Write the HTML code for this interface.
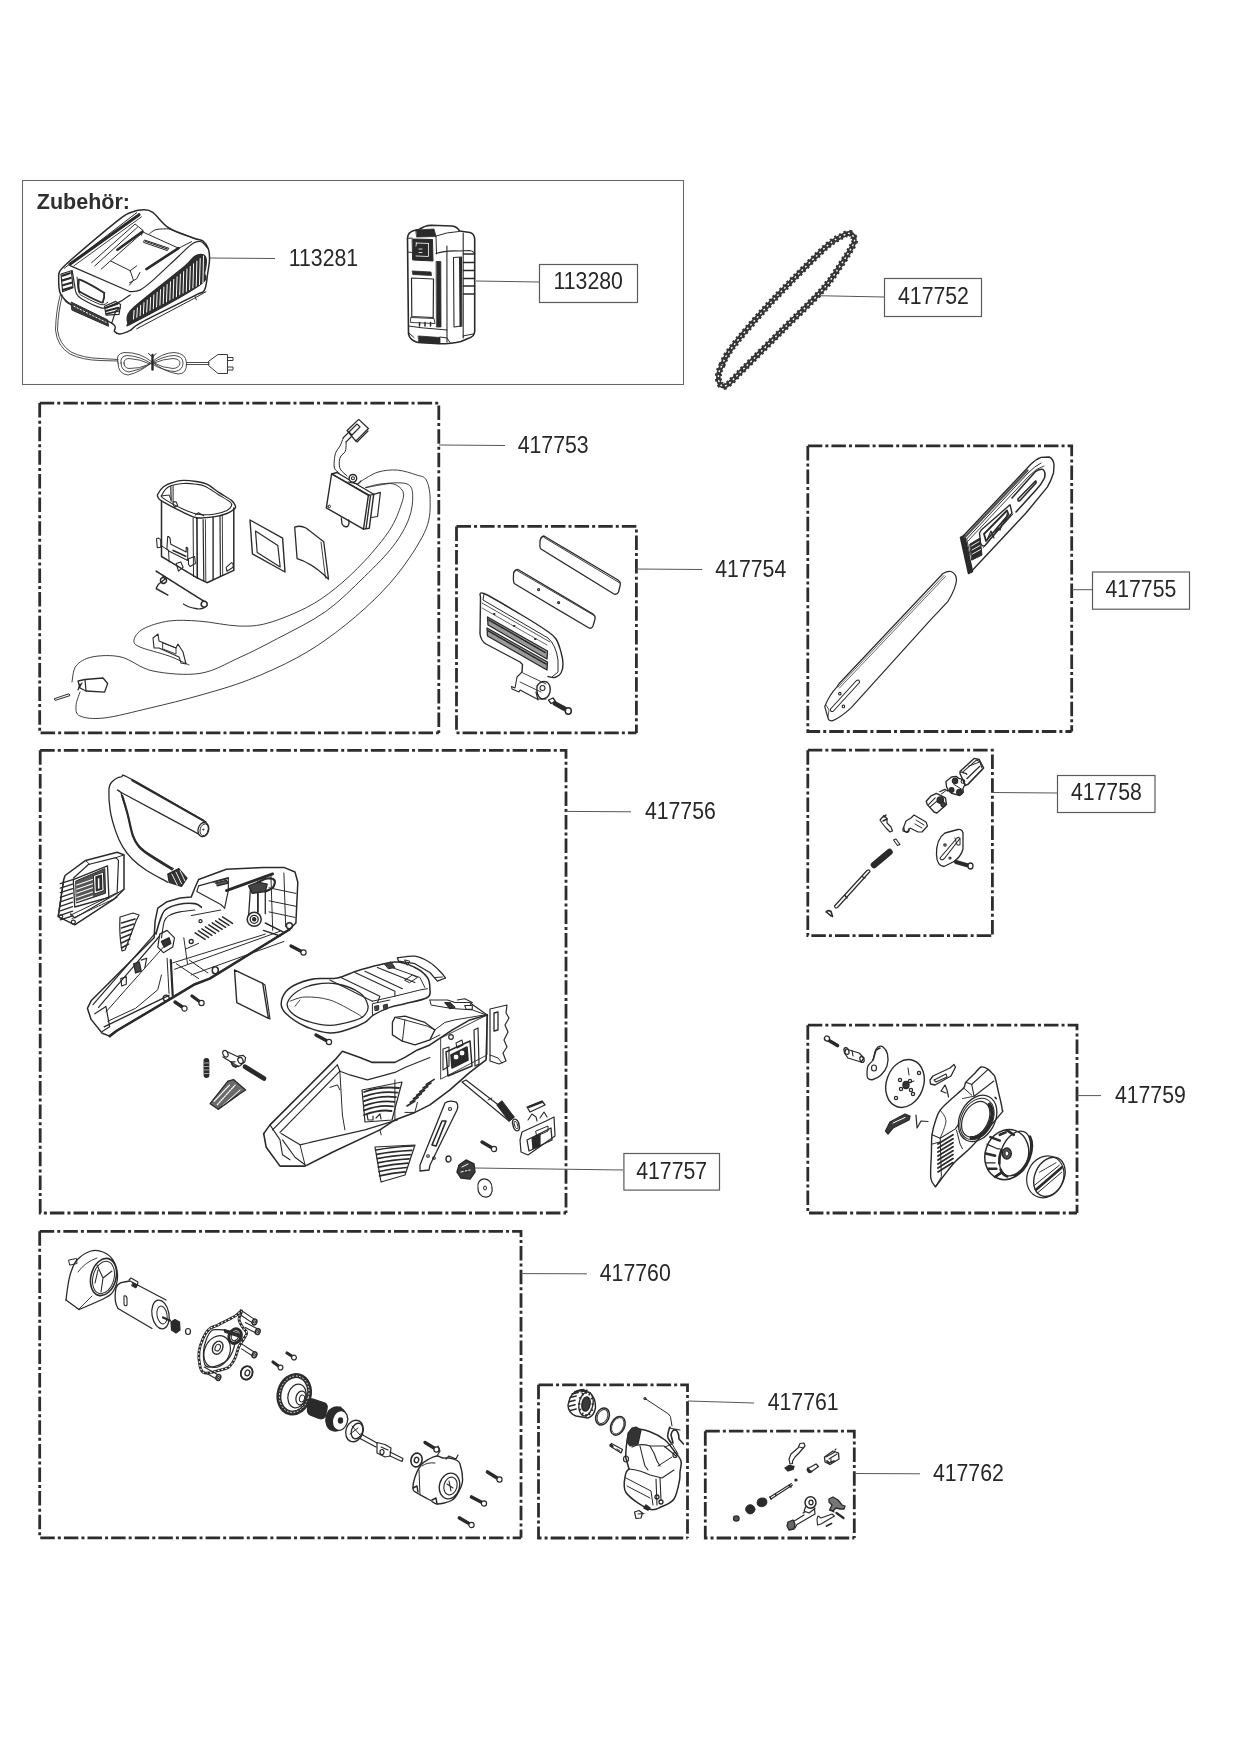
<!DOCTYPE html>
<html><head><meta charset="utf-8"><style>
html,body{margin:0;padding:0;background:#fff;}
text{-webkit-font-smoothing:antialiased;}
svg{display:block;}
</style></head><body>
<svg width="1241" height="1755" viewBox="0 0 1241 1755">
<rect width="1241" height="1755" fill="#fff"/>
<g opacity="0.995">
<rect x="22.5" y="180.5" width="661" height="204" fill="none" stroke="#666" stroke-width="1.05"/>
<text x="36.8" y="208.6" font-family="Liberation Sans, sans-serif" font-weight="bold" font-size="21.5" fill="#2e2e2e">Zubehör:</text>
<path d="M39.7 403.1 L438.8 403.1 L438.8 732.9" stroke="#2c2c2c" stroke-width="2.8" stroke-dasharray="14.5 3.06 3 3.06" fill="none" stroke-linejoin="miter"/>
<path d="M39.7 403.1 L39.7 732.9 L438.8 732.9" stroke="#2c2c2c" stroke-width="2.8" stroke-dasharray="14.5 3.06 3 3.06" fill="none" stroke-linejoin="miter"/>
<path d="M456.5 526.4 L636.4 526.4 L636.4 732.9" stroke="#2c2c2c" stroke-width="2.8" stroke-dasharray="14.5 3.06 3 3.06" fill="none" stroke-linejoin="miter"/>
<path d="M456.5 526.4 L456.5 732.9 L636.4 732.9" stroke="#2c2c2c" stroke-width="2.8" stroke-dasharray="14.5 3.06 3 3.06" fill="none" stroke-linejoin="miter"/>
<path d="M807.8 445.9 L1071.7 445.9 L1071.7 731.5" stroke="#2c2c2c" stroke-width="2.8" stroke-dasharray="14.5 3.06 3 3.06" fill="none" stroke-linejoin="miter"/>
<path d="M807.8 445.9 L807.8 731.5 L1071.7 731.5" stroke="#2c2c2c" stroke-width="2.8" stroke-dasharray="14.5 3.06 3 3.06" fill="none" stroke-linejoin="miter"/>
<path d="M40.2 750.3 L566 750.3 L566 1213" stroke="#2c2c2c" stroke-width="2.8" stroke-dasharray="14.5 3.06 3 3.06" fill="none" stroke-linejoin="miter"/>
<path d="M40.2 750.3 L40.2 1213 L566 1213" stroke="#2c2c2c" stroke-width="2.8" stroke-dasharray="14.5 3.06 3 3.06" fill="none" stroke-linejoin="miter"/>
<path d="M807.8 750.2 L992.4 750.2 L992.4 935.6" stroke="#2c2c2c" stroke-width="2.8" stroke-dasharray="14.5 3.06 3 3.06" fill="none" stroke-linejoin="miter"/>
<path d="M807.8 750.2 L807.8 935.6 L992.4 935.6" stroke="#2c2c2c" stroke-width="2.8" stroke-dasharray="14.5 3.06 3 3.06" fill="none" stroke-linejoin="miter"/>
<path d="M807.8 1025.2 L1077 1025.2 L1077 1213" stroke="#2c2c2c" stroke-width="2.8" stroke-dasharray="14.5 3.06 3 3.06" fill="none" stroke-linejoin="miter"/>
<path d="M807.8 1025.2 L807.8 1213 L1077 1213" stroke="#2c2c2c" stroke-width="2.8" stroke-dasharray="14.5 3.06 3 3.06" fill="none" stroke-linejoin="miter"/>
<path d="M39.7 1231.3 L521 1231.3 L521 1537.8" stroke="#2c2c2c" stroke-width="2.8" stroke-dasharray="14.5 3.06 3 3.06" fill="none" stroke-linejoin="miter"/>
<path d="M39.7 1231.3 L39.7 1537.8 L521 1537.8" stroke="#2c2c2c" stroke-width="2.8" stroke-dasharray="14.5 3.06 3 3.06" fill="none" stroke-linejoin="miter"/>
<path d="M538.5 1384.8 L687.5 1384.8 L687.5 1538" stroke="#2c2c2c" stroke-width="2.8" stroke-dasharray="14.5 3.06 3 3.06" fill="none" stroke-linejoin="miter"/>
<path d="M538.5 1384.8 L538.5 1538 L687.5 1538" stroke="#2c2c2c" stroke-width="2.8" stroke-dasharray="14.5 3.06 3 3.06" fill="none" stroke-linejoin="miter"/>
<path d="M705.3 1431.2 L854.3 1431.2 L854.3 1538" stroke="#2c2c2c" stroke-width="2.8" stroke-dasharray="14.5 3.06 3 3.06" fill="none" stroke-linejoin="miter"/>
<path d="M705.3 1431.2 L705.3 1538 L854.3 1538" stroke="#2c2c2c" stroke-width="2.8" stroke-dasharray="14.5 3.06 3 3.06" fill="none" stroke-linejoin="miter"/>
<text transform="translate(288.8,266.1) scale(0.925,1)" font-family="Liberation Sans, sans-serif" font-size="23" fill="#262626">113281</text>
<text transform="translate(517.7,453.0) scale(0.925,1)" font-family="Liberation Sans, sans-serif" font-size="23" fill="#262626">417753</text>
<text transform="translate(715.3,577.1) scale(0.925,1)" font-family="Liberation Sans, sans-serif" font-size="23" fill="#262626">417754</text>
<text transform="translate(644.9,819.1) scale(0.925,1)" font-family="Liberation Sans, sans-serif" font-size="23" fill="#262626">417756</text>
<text transform="translate(1114.9,1102.8) scale(0.925,1)" font-family="Liberation Sans, sans-serif" font-size="23" fill="#262626">417759</text>
<text transform="translate(599.8,1281.1) scale(0.925,1)" font-family="Liberation Sans, sans-serif" font-size="23" fill="#262626">417760</text>
<text transform="translate(767.7,1409.9) scale(0.925,1)" font-family="Liberation Sans, sans-serif" font-size="23" fill="#262626">417761</text>
<text transform="translate(932.9,1480.8) scale(0.925,1)" font-family="Liberation Sans, sans-serif" font-size="23" fill="#262626">417762</text>
<rect x="539.5" y="264.5" width="98" height="38" fill="none" stroke="#5a5a5a" stroke-width="1.2"/>
<text transform="translate(553.5,289.0) scale(0.925,1)" font-family="Liberation Sans, sans-serif" font-size="23" fill="#262626">113280</text>
<rect x="884.5" y="278.5" width="97" height="38" fill="none" stroke="#5a5a5a" stroke-width="1.2"/>
<text transform="translate(898.0,303.8) scale(0.925,1)" font-family="Liberation Sans, sans-serif" font-size="23" fill="#262626">417752</text>
<rect x="1092.5" y="572.0" width="97" height="37.200000000000045" fill="none" stroke="#5a5a5a" stroke-width="1.2"/>
<text transform="translate(1105.4,597.3) scale(0.925,1)" font-family="Liberation Sans, sans-serif" font-size="23" fill="#262626">417755</text>
<rect x="1057.5" y="775.5" width="97.5" height="37" fill="none" stroke="#5a5a5a" stroke-width="1.2"/>
<text transform="translate(1070.9,800.0) scale(0.925,1)" font-family="Liberation Sans, sans-serif" font-size="23" fill="#262626">417758</text>
<rect x="623.9" y="1153.5" width="95.60000000000002" height="36.59999999999991" fill="none" stroke="#5a5a5a" stroke-width="1.2"/>
<text transform="translate(636.2,1178.8) scale(0.925,1)" font-family="Liberation Sans, sans-serif" font-size="23" fill="#262626">417757</text>
<line x1="209" y1="258" x2="275" y2="258.5" stroke="#555" stroke-width="1"/>
<line x1="476" y1="281" x2="539" y2="282" stroke="#555" stroke-width="1"/>
<line x1="818" y1="295.7" x2="884" y2="297" stroke="#555" stroke-width="1"/>
<line x1="439" y1="445" x2="505" y2="445.5" stroke="#555" stroke-width="1"/>
<line x1="636" y1="569" x2="702" y2="569.5" stroke="#555" stroke-width="1"/>
<line x1="1072" y1="589.7" x2="1092" y2="589.7" stroke="#555" stroke-width="1"/>
<line x1="566" y1="811.4" x2="631" y2="811.8" stroke="#555" stroke-width="1"/>
<line x1="475" y1="1168" x2="623" y2="1170" stroke="#555" stroke-width="1"/>
<line x1="992" y1="792.5" x2="1057" y2="793" stroke="#555" stroke-width="1"/>
<line x1="1077" y1="1095.6" x2="1101" y2="1095.6" stroke="#555" stroke-width="1"/>
<line x1="521" y1="1273.6" x2="587" y2="1273.8" stroke="#555" stroke-width="1"/>
<line x1="688" y1="1401" x2="754" y2="1403" stroke="#555" stroke-width="1"/>
<line x1="854" y1="1473.5" x2="920" y2="1473.8" stroke="#555" stroke-width="1"/>
</g>
<g fill="none" stroke="#2a2a2a" stroke-width="1.2" stroke-linejoin="round" stroke-linecap="round">
<g id="charger" stroke="#2a2a2a">
<path d="M60.1 270.7C62.4 267.3 62.7 267 72.2 258.7C81.8 250.4 107.7 228.5 117.4 220.8C127.1 213.1 125.9 214.5 130.2 212.7C134.5 210.9 139.3 209.9 143.1 209.8C146.9 209.8 148.5 209.4 152.8 212.4C157.1 215.4 162.1 223.7 168.9 228C175.8 232.3 188.2 236 193.9 238.2C199.6 240.3 200.4 239.1 202.8 240.9C205.2 242.7 207.3 245.9 208.4 249C209.5 252.1 209.6 255.3 209.5 259.5C209.4 263.7 208.4 268.9 207.6 274C206.8 279.1 206.6 286.5 204.4 290.1C202.2 293.7 205.2 290.3 194.7 295.7C184.2 301.1 152.2 316.5 141.5 322.3C130.8 328.1 133.8 328.5 130.2 330.4C126.6 332.3 122.4 333.8 119.8 333.9C117.2 334 115.8 333 114.5 331.2C113.2 329.4 118.8 327.4 111.7 323.1C104.7 318.8 80.1 309.4 72.2 305.4C64.3 301.4 66.3 301.2 64.2 298.9C62.1 296.6 60.6 295 59.7 291.7C58.8 288.4 58.6 282.3 58.7 278.8C58.8 275.3 57.9 274.1 60.1 270.7Z" stroke-width="1.5" fill="none" />
<path d="M64.2 268.3 L136.7 212.7" stroke-width="1.0" fill="none" />
<path d="M69.8 264.3 L139.1 214.7" stroke-width="3.0" fill="none" />
<path d="M73.8 265.9 L141.5 216.8" stroke-width="0.9" fill="none" />
<path d="M149.6 233.7C150.7 233 152.8 230.4 156 229.6C159.2 228.8 166.8 228.9 168.9 228.8" stroke-width="1.0" fill="none" />
<path d="M168.9 228.8 L194.7 238.5" stroke-width="1.0" fill="none" />
<path d="M91.6 262.7 L135.1 224.0 L143.1 230.5 L141.5 235.3" stroke-width="1.0" fill="none" />
<path d="M94.8 265.9 L137.5 227.2" stroke-width="1.0" fill="none" />
<path d="M101.2 269.1 L143.1 232.1" stroke-width="1.0" fill="none" />
<path d="M117.4 249.8 L142.3 231.7" stroke-width="2.6" fill="none" />
<path d="M143.1 232.1 L178.6 248.2" stroke-width="1.0" fill="none" />
<path d="M144.8 240.1 L168.9 248.2 L167.3 250.6 L143.9 242.5Z" stroke-width="1.0" fill="none" />
<path d="M145.6 241.4 L168.1 249.3" stroke-width="1.2" fill="none" stroke-dasharray="1 1"/>
<path d="M146.4 269.1 L178.6 248.2" stroke-width="2.6" fill="none" />
<path d="M110.9 261.1 L130.2 270.7 L133.5 280.4 L129.4 285.2" stroke-width="1.0" fill="none" />
<path d="M130.2 270.7 L136.7 265.9" stroke-width="1.0" fill="none" />
<path d="M129.4 282.8 L136.7 278.8 L139.9 272.4" stroke-width="1.0" fill="none" />
<path d="M178.6 248.2 L181.8 246.6 L191.5 241.7" stroke-width="1.0" fill="none" />
<path d="M70.6 265.9 L130.2 291.7" stroke-width="1.2" fill="none" />
<path d="M130.2 291.7C131.8 291.4 136.1 292 139.9 290.1C143.7 288.2 146.4 286 152.8 280.4C159.2 274.8 171.9 262.4 178.6 256.2C185.3 250 189.3 245.7 193.1 243.3C196.9 240.9 198.8 240.9 201.2 241.7C203.6 242.5 206.5 247.1 207.6 248.2" stroke-width="1.2" fill="none" />
<path d="M72.2 270.7C72.6 273.1 73.9 281.4 74.6 285.2C75.3 289 75.1 291 76.3 293.3C77.5 295.6 77.8 296.5 81.9 298.9C86.1 301.3 96.6 306.6 101.2 307.8C105.8 309 106.1 307.3 109.3 306.2C112.5 305.1 117.1 303.3 120.6 301.4C124.1 299.5 128.6 296 130.2 294.9" stroke-width="1.2" fill="none" />
<path d="M77.1 277.2C77.4 279.6 77.6 288.5 78.7 291.7C79.8 294.9 79.8 294.4 83.5 296.5C87.2 298.6 97.2 303.7 101.2 304.6C105.2 305.6 106.6 302.6 107.7 302.2" stroke-width="1.0" fill="none" />
<path d="M78.7 282C79 280.3 77.2 278.5 81.1 280.1C85 281.7 98.2 289.1 102 291.4C105.8 293.7 103.9 292.6 104.1 294.1C104.3 295.6 103.8 299.3 103.2 300.6C102.6 301.9 104.1 303.4 100.4 302C96.7 300.6 84.7 294.5 81.1 292.5C77.5 290.5 79.4 291.9 79 290.1C78.6 288.4 78.4 283.7 78.7 282Z" stroke-width="1.8" fill="none" />
<path d="M61.0 274.0 L71.4 270.7 L73.0 287.7 L62.6 291.7Z" stroke-width="1.2" fill="none" />
<path d="M62.6 275.6 L69.8 273.2" stroke-width="2.2" fill="none" />
<path d="M62.6 280.4 L70.6 278.0" stroke-width="2.2" fill="none" />
<path d="M62.9 285.2 L71.4 282.8" stroke-width="2.2" fill="none" />
<path d="M63.4 289.8 L71.9 287.3" stroke-width="2.2" fill="none" />
<path d="M104.5 306.2 L115.7 301.4 L120.6 304.6 L119.0 314.3 L106.1 315.1Z" stroke-width="1.2" fill="none" />
<path d="M106.1 307.8 L117.4 303.8" stroke-width="2.0" fill="none" />
<path d="M106.1 311.0 L118.2 307.8" stroke-width="2.0" fill="none" />
<path d="M106.4 313.9 L118.6 311.0" stroke-width="1.6" fill="none" />
<path d="M71.4 302.2 L107.7 319.9 L108.5 326.3 L72.2 310.2Z" stroke-width="1.0" fill="#3a3a3a" />
<path d="M73.8 306.2 L106.1 322.3" stroke-width="0.9" fill="none" stroke="#fff" stroke-dasharray="1.5 2"/>
<path d="M64.2 298.9 L72.2 305.4" stroke-width="1.0" fill="none" />
<path d="M111.7 323.1 L115.7 311.0 L120.6 307.8" stroke-width="1.2" fill="none" />
<path d="M127.8 323.1C127.1 321.2 126 316.2 130.2 311C134.4 305.8 143.7 299.2 152.8 291.7C161.9 284.2 178 271.8 185 265.9C192 260 191.7 258.1 194.7 256.2C197.7 254.3 200.9 254 202.8 254.6C204.7 255.2 206 256.5 206.3 259.5C206.6 262.5 205.8 268.1 204.7 272.4C203.6 276.7 211.2 276.9 199.5 285.2C187.8 293.5 146.2 316 134.3 322.3C122.4 328.6 128.5 325 127.8 323.1Z" stroke-width="1.2" fill="#2e2e2e" />
<g stroke="#fff" stroke-width="1.0">
<path d="M133.5 319.0 L134.1 310.4"/>
<path d="M136.8 317.3 L137.4 307.9"/>
<path d="M140.1 315.6 L140.7 305.3"/>
<path d="M143.4 313.8 L144.0 302.7"/>
<path d="M146.7 312.1 L147.3 300.1"/>
<path d="M150.0 310.4 L150.6 297.5"/>
<path d="M153.3 308.7 L153.9 294.9"/>
<path d="M156.6 306.9 L157.2 292.3"/>
<path d="M159.9 305.2 L160.5 289.7"/>
<path d="M163.2 303.5 L163.9 287.1"/>
<path d="M166.5 301.8 L167.2 284.5"/>
<path d="M169.8 300.0 L170.5 281.9"/>
<path d="M173.1 298.3 L173.8 279.4"/>
<path d="M176.4 296.6 L177.1 276.8"/>
<path d="M179.7 294.8 L180.4 274.2"/>
<path d="M183.0 293.1 L183.7 271.6"/>
<path d="M186.3 291.4 L187.0 269.0"/>
<path d="M189.6 289.7 L190.3 266.4"/>
<path d="M192.9 287.9 L193.6 263.8"/>
<path d="M196.2 286.2 L196.9 261.2"/>
<path d="M199.5 284.5 L200.2 258.6"/>
<path d="M202.9 282.8 L203.5 256.0"/>
</g>
<path d="M136.7 328.8 L194.7 298.1 L206.0 291.7" stroke-width="1.0" fill="none" />
<path d="M194.7 295.7 L196.3 299.8" stroke-width="1.0" fill="none" />
</g>
<g id="cord" stroke="#3a3a3a" stroke-width="0.9">
<path d="M60.5 294 Q56 310 55.5 330 Q57 346 70 354 Q82 360 100 360.5 L118 361"/>
<path d="M62.5 295 Q58 311 57.5 330 Q59 344 71 352 Q83 358 100 358.5 L118 359.5"/>
<path d="M118 363 Q115 354 124 352.5 Q140 352 152 362 Q165 372 178 374 Q187 374 186.5 363 Q186 353 174 352.5 Q162 353 152 362 Q141 372 128 375 Q118 374 118 363Z"/>
<path d="M121 363 Q120 356 127 355.5 Q140 356 152 364 Q164 371 175 371.5 Q183 370 183 363 Q183 356 174 355.5 Q163 356 152 363 Q141 370 129 372 Q121 371 121 363Z"/>
<path d="M124 363 Q124 358.5 129 358.5 Q140 359 150 364 Q139 369 129 368.5 Q124 368 124 363Z"/>
<path d="M154 363 Q163 359 173 358.5 Q180 359 180 363 Q179.5 368 173 368.5 Q163 368 154 363Z"/>
<path d="M186.5 362.5 L209 362.5 M186.5 364.5 L209 364.5"/>
<path d="M209 361 L218 354.5 L227.5 354.5 L227.5 373.5 L218 373.5 L209 366Z" stroke-width="1"/>
<path d="M227.5 357.5 L233 357.5 L233 360.5 L227.5 360.5 M227.5 367 L233 367 L233 370 L227.5 370" stroke-width="1"/>
</g>
<path d="M152.5 355 L152.5 369.5" stroke="#2a2a2a" stroke-width="2.4"/>
<path d="M148.5 353.5 L152.5 357 L156 353.5" stroke="#2a2a2a" stroke-width="1"/>

<g id="battery" stroke="#2a2a2a">
<path d="M407.5 238 Q408 232 414 230.5 L419 229.5 Q425 225.5 431 225.3 L452 226 Q457 226.5 459.5 231 L470 232.5 Q474.5 234 474.7 239 L474.7 331 Q474.5 337 468 338.5 L461 341.5 Q452 343.8 439 343.8 L418 342.5 Q410 340.5 408.5 334 Z" stroke-width="1.6"/>
<path d="M416 230 L434 229 L436 236.5 L417 237Z" fill="#2a2a2a" stroke-width="0.8"/>
<path d="M436 236 Q447 232 459 231.5 M436 236.5 L436.5 254" stroke-width="1"/>
<path d="M407.6 252 L412 252.5 M407.6 238.5 L412 238" stroke-width="1"/>
<path d="M412.5 239 L432.5 239.5 L433 261 L413 260Z" fill="#2a2a2a" stroke-width="1"/>
<path d="M416 243 L428.5 243.5 M416 256 L428 256.5 M416.5 243 L416 246 M428.5 243.5 L428.5 256 M419 249 L422 249 M419 252.5 L422 252.5" stroke="#fff" stroke-width="0.8"/>
<path d="M436 253.5 Q446 250 460 251 L469 250.5 Q474 251 474.5 254" stroke-width="1.2"/>
<path d="M436.5 261.5 L440.8 261.5 L441 327 L436.8 327Z" fill="#2a2a2a" stroke-width="0.8"/>
<path d="M446.9 246 L447 342 M463.2 233 L463.2 338" stroke-width="1.1"/>
<path d="M453.5 257.5 L461.5 257 L461.8 326 L454 327Z" stroke-width="1.1"/>
<path d="M460 258 L460.5 326" stroke-width="2"/>
<path d="M463.5 254 L474.5 254 M463.5 262.5 L474.5 262.5 M463.5 270.5 L474.5 270.5 M463.5 278.5 L474.5 278.5 M463.5 286 L474.5 286 M463.5 294 L474.5 294" stroke-width="1.6"/>
<path d="M411.5 278 L433.5 279 L433.2 317.5 L411.8 316.5Z" stroke-width="1.2"/>
<path d="M412.5 271 L431 272 L431.5 275.5 L413 274.5Z" fill="#2a2a2a" stroke-width="0.8"/>
<path d="M411 317.5 L434 318.5 L435 323.5 L411 322.5Z" stroke-width="0.9"/>
<path d="M419.5 322.5 L419.5 326 M425 322.5 L425 326 M430.5 322.5 L430.5 326" stroke-width="1.5"/>
<path d="M408.5 326 Q420 328 436 329 L447 330" stroke-width="1"/>
<path d="M418.5 336 L440 337.5 L440 343.2 L419 342.5Z" fill="#2a2a2a" stroke-width="0.8"/>
<path d="M409 333 L414 337.5 M440 337 L447 338 L450 342.5 M463 336 L473 334" stroke-width="1"/>
</g>

<g id="chain">
<path d="M722 365C724.2 360.4 725.2 356.5 732 347.5C738.8 338.5 752.5 322.7 763 311C773.5 299.3 784.3 288.3 795 277.5C805.7 266.7 819 253 827 246C835 239 839.2 237.6 843 235.5C846.8 233.4 848.2 233.1 850 233.5C851.8 233.9 853.5 236.1 854 238C854.5 239.9 855.3 240.3 853 245C850.7 249.7 845.3 258.2 840 266C834.7 273.8 830.7 280.8 821 291.5C811.3 302.2 794.8 317.7 782 330.5C769.2 343.3 753.2 359.4 744 368.5C734.8 377.6 731 382.4 727 385C723 387.6 721.4 385.7 720 384C718.6 382.3 718.2 378.2 718.5 375C718.8 371.8 719.8 369.6 722 365Z" stroke="#353535" stroke-width="4.6"/>
<path d="M722 365C724.2 360.4 725.2 356.5 732 347.5C738.8 338.5 752.5 322.7 763 311C773.5 299.3 784.3 288.3 795 277.5C805.7 266.7 819 253 827 246C835 239 839.2 237.6 843 235.5C846.8 233.4 848.2 233.1 850 233.5C851.8 233.9 853.5 236.1 854 238C854.5 239.9 855.3 240.3 853 245C850.7 249.7 845.3 258.2 840 266C834.7 273.8 830.7 280.8 821 291.5C811.3 302.2 794.8 317.7 782 330.5C769.2 343.3 753.2 359.4 744 368.5C734.8 377.6 731 382.4 727 385C723 387.6 721.4 385.7 720 384C718.6 382.3 718.2 378.2 718.5 375C718.8 371.8 719.8 369.6 722 365Z" stroke="#353535" stroke-width="7" stroke-dasharray="2.2 2.8" stroke-linecap="butt"/>
<path d="M722 365C724.2 360.4 725.2 356.5 732 347.5C738.8 338.5 752.5 322.7 763 311C773.5 299.3 784.3 288.3 795 277.5C805.7 266.7 819 253 827 246C835 239 839.2 237.6 843 235.5C846.8 233.4 848.2 233.1 850 233.5C851.8 233.9 853.5 236.1 854 238C854.5 239.9 855.3 240.3 853 245C850.7 249.7 845.3 258.2 840 266C834.7 273.8 830.7 280.8 821 291.5C811.3 302.2 794.8 317.7 782 330.5C769.2 343.3 753.2 359.4 744 368.5C734.8 377.6 731 382.4 727 385C723 387.6 721.4 385.7 720 384C718.6 382.3 718.2 378.2 718.5 375C718.8 371.8 719.8 369.6 722 365Z" stroke="#fff" stroke-width="1.4" stroke-dasharray="1.8 3.2" stroke-dashoffset="1" stroke-linecap="butt"/>
</g>
<g id="harness" stroke="#2a2a2a">
<path d="M361.6 480.8C364.3 479.4 372 473.9 378 472.1C384 470.3 390.9 469.6 397.4 470.1C403.8 470.6 411.9 473.4 416.7 475C421.5 476.6 424.1 475.9 426.3 480C428.5 484.1 430.1 491.2 430.1 499.3C430.1 507.4 430.8 517 426.3 528.3C421.8 539.6 411.7 555.1 403 567C394.3 578.9 385.3 588.9 374 599.9C362.7 610.9 348.3 623.1 335.4 632.8C322.5 642.5 311.2 650 296.7 657.9C282.2 665.8 264.2 673.8 248.3 680C232.4 686.2 217.4 690.3 201 695C184.6 699.7 166.2 704.2 150 708C133.8 711.8 115.7 716.7 104 718C92.3 719.3 84.7 718 80 716C75.3 714 76 710 76 706C76 702 79.3 694.3 80 692" stroke-width="0.9" fill="none" />
<path d="M365.5 487.5C368.4 486.9 376 484.3 382.9 483.7C389.8 483.1 401.9 481.9 406.9 483.9C411.9 485.9 412.4 489.7 412.7 495.5C413 501.3 412.1 510.3 408.9 518.7C405.7 527.1 400.8 536.1 393.4 545.8C386 555.5 375.7 565.8 364.4 576.7C353.1 587.7 340.2 601.2 325.7 611.5C311.2 621.8 291.9 630.9 277.4 638.6C262.9 646.3 251.6 652.1 238.7 657.9C225.8 663.7 214.3 671.2 200 673.4C185.7 675.6 166.2 673.7 153 671C139.8 668.3 131.2 659.3 121 657C110.8 654.7 99.5 655.5 92 657C84.5 658.5 79.3 661.8 76 666C72.7 670.2 72.7 679.3 72 682" stroke-width="0.9" fill="none" />
<path d="M366.3 487.7C368.6 487.2 375.5 485.6 380 485C384.5 484.4 389.6 482.8 393.4 483.9C397.2 485 401.7 488.1 403 491.6C404.3 495.1 403.4 498.7 401.1 505.1C398.9 511.6 395.6 520.9 389.5 530.3C383.4 539.6 373.4 551.5 364.4 561.2C355.4 570.9 345.1 580.6 335.4 588.3C325.7 596 317.7 601.8 306.4 607.6C295.1 613.4 279 620 267.7 623.1C256.4 626.2 250 626.3 238.7 626C227.4 625.7 211.6 622 200 621.2C188.4 620.4 178.5 619.7 169 621C159.5 622.3 148.8 625.8 143 629C137.2 632.2 134.5 637 134 640C133.5 643 134.2 644.3 140 647C145.8 649.7 160.8 653 169 656C177.2 659 185.7 663.5 189 665" stroke-width="0.9" fill="none" />
<path d="M331.6 474 L368.4 495.3 L363.5 529.1 L326.3 507.8Z" stroke-width="1.4" fill="none" />
<path d="M331.6 474 L336.9 472.5 L373.7 494.3 L368.4 495.3" stroke-width="1.3" fill="none" />
<path d="M333 474.5 L369 495" stroke-width="1.2" fill="none" stroke-dasharray="1 0.8"/>
<path d="M373.7 494.3 L369.3 528.2 L363.5 529.1" stroke-width="1.4" fill="none" />
<path d="M370.5 496 L366 528.5" stroke-width="1.4" fill="none" stroke-dasharray="1 0.8"/>
<path d="M373.7 494.3 L380.4 492.4 L377.5 516.5 L371.3 517.5" stroke-width="1.2" fill="none" />
<path d="M352.9 478.3 m-3.8 0 a3.8 3.8 0 1 0 7.6 0 a3.8 3.8 0 1 0 -7.6 0" stroke-width="1.4" fill="#fff" />
<path d="M352.9 478.3 m-1.5 0 a1.5 1.5 0 1 0 3 0 a1.5 1.5 0 1 0 -3 0" stroke-width="1.1" fill="none" />
<path d="M348 482 L358 484 L361 481" stroke-width="1.2" fill="none" />
<path d="M341.3 518 L342 524 Q344 527.5 347.5 526.5 Q350 524 348.5 520" stroke-width="1.3" fill="none" />
<path d="M329.2 506.4 m-1.3 0 a1.3 1.3 0 1 0 2.6 0 a1.3 1.3 0 1 0 -2.6 0" stroke-width="1" fill="none" />
<path d="M343.2 438.2C342.7 439.5 341.2 443.7 340 446C338.8 448.3 336.9 449.9 336 452C335.1 454.1 334.8 455.8 334.5 458.5C334.2 461.2 333.7 465.8 334.5 468.2C335.3 470.6 338.5 472.2 339.3 473" stroke-width="1.0" fill="none" />
<path d="M346.1 442.1C346.1 442.9 346.2 445.4 346 447C345.8 448.6 345.9 450.3 345.1 451.8C344.3 453.3 342 454.4 341 456C340 457.6 339.4 459.2 339.3 461.4C339.2 463.6 339 466.8 340.3 469.2C341.6 471.6 346 474.8 347.1 475.9" stroke-width="1.0" fill="none" />
<path d="M347.1 430.5 L358.7 419.4 L368.4 428.5 L355.8 441.1Z" stroke-width="1.3" fill="none" />
<path d="M349 432 L357 424 L360 427 L352 435Z" stroke-width="1.1" fill="none" />
<path d="M343 438 L349 432 M346 442 L352 436" stroke-width="1.1" fill="none" />
<path d="M356 440 L357 442 L368 431" stroke-width="1.2" fill="none" />
<path d="M157.7 494.2C158.6 492.4 161.2 488.5 163.8 486.5C166.4 484.5 169.9 483.3 173.1 482.3C176.3 481.3 179.2 480.5 183.1 480.4C186.9 480.3 192.2 480.9 196.2 481.5C200.2 482.1 203.1 482.3 206.9 484.2C210.7 486.1 215.1 490 219.2 492.7C223.3 495.4 228.8 498.2 231.5 500.4C234.2 502.6 234.9 504.4 235.4 505.8C235.9 507.2 236 507.5 234.6 508.8C233.2 510.1 230.4 512.1 226.9 513.5C223.4 514.9 218.9 516.2 213.8 516.9C208.7 517.6 201.4 518.5 196.2 517.7C190.9 516.9 188.1 514.7 182.3 511.9C176.5 509.1 165.5 503.2 161.5 500.8C157.5 498.4 158.7 498.4 158.1 497.3C157.5 496.2 156.8 496 157.7 494.2Z" stroke-width="1.4" fill="none" />
<path d="M162.3 494.2C163.3 492.3 165.7 488.3 169.2 486.5C172.7 484.7 178.6 483.9 183.1 483.5C187.6 483.1 192.5 483.7 196.2 484.2C199.9 484.7 201.8 484.8 205.4 486.5C209 488.2 213.6 491.6 217.7 494.2C221.8 496.8 227.7 500 230 501.9C232.3 503.8 232 504.4 231.5 505.8C231 507.2 229.8 509 226.9 510.4C224 511.8 218.7 513.6 213.8 514.2C208.9 514.8 202.9 515.1 197.7 514.2C192.4 513.3 188.1 511.5 182.3 508.8C176.5 506.1 166.4 500.5 163.1 498.1C159.8 495.7 161.3 496.1 162.3 494.2Z" stroke-width="1.1" fill="none" />
<path d="M170.8 486.5 L171.2 501.2" stroke-width="1.2" fill="none" />
<path d="M173.1 485.8 L173.1 501.9" stroke-width="1.0" fill="none" />
<path d="M162.3 495.8 L169.2 495.0 L170.8 499.6" stroke-width="1.0" fill="none" />
<path d="M173.1 501.9 L176.2 501.9 L177.7 505.8 L174.6 507.3 L173.1 504.2Z" stroke-width="1.1" fill="none" />
<path d="M195.4 515.0 L198.5 512.7 L203.8 515.8" stroke-width="1.1" fill="none" />
<path d="M161.5 501.2 L161.5 556.5 L169.2 561.2 L196.2 577.3 L206.9 582.7 L233.8 570.4 L233.8 508.1" stroke-width="1.5" fill="none" />
<path d="M196.9 517.7 L197.3 578.1" stroke-width="1.6" fill="none" />
<path d="M193.1 518.1 L193.5 576.5" stroke-width="1.0" fill="none" />
<path d="M203.1 519.6 L203.8 581.2" stroke-width="1.2" fill="none" />
<path d="M205.4 519.6 L205.8 581.5" stroke-width="0.9" fill="none" />
<path d="M213.1 516.9 L213.1 579.6" stroke-width="1.4" fill="none" />
<path d="M220.0 515.8 L220.4 576.5" stroke-width="1.2" fill="none" />
<path d="M222.3 515.0 L222.7 575.4" stroke-width="0.9" fill="none" />
<path d="M168.5 536.5 L170.0 538.1 L170.8 544.2 L186.2 551.9 L186.2 547.3 L187.7 548.1 L187.7 560.4 L169.2 551.2 L166.9 548.8 L167.7 536.5Z" stroke-width="1.1" fill="none" />
<path d="M173.1 550.4 L186.2 556.5" stroke-width="1.6" fill="none" stroke-dasharray="2 1"/>
<path d="M161.5 545.8 L168.5 550.4 L169.2 561.9" stroke-width="1.0" fill="none" />
<path d="M188.5 558.8 L194.6 556.5 L195.4 563.5 L190.0 566.5 L188.5 564.2Z" stroke-width="1.1" fill="none" />
<path d="M156.5 538.8 L158.5 538.1 L160.8 539.6 L160.8 547.3 L157.3 547.7Z" stroke-width="1.1" fill="none" />
<path d="M176.2 563.5 L180.8 561.9 L183.1 567.3 L178.5 571.2Z" stroke-width="1.1" fill="none" />
<path d="M226.2 567.3 L231.5 562.7 L233.1 563.5 L233.1 567.3 L226.9 571.2Z" stroke-width="1.1" fill="none" />
<path d="M250 520 L282.6 538.1 L285 572 L252.4 553.8Z" stroke-width="1.4" fill="none" />
<path d="M255.5 531 L277.8 545.4 L280.2 567 L257.2 552.6Z" stroke-width="1.2" fill="none" />
<path d="M294.7 527.2 Q300 525 306 528 L323.7 541.7 L328.5 579.2 Q312 563 297.1 558.7Z" stroke-width="1.3" fill="none" />
<path d="M321 542 L325.5 578" stroke-width="0.9" fill="none" />
<path d="M156.2 571.2 L203.8 601.2" stroke-width="1.6" fill="none" stroke-dasharray="1.5 1"/>
<path d="M156.2 588.1 L158.5 584.2 L162.3 581.2 L165.4 578.8 L163.1 576.5" stroke-width="1.3" fill="none" />
<path d="M156.5 588.8 L167.7 595.0" stroke-width="1.6" fill="none" stroke-dasharray="1.5 1"/>
<path d="M160.5 580.4 a3 3 0 1 0 6 0 a3 3 0 1 0 -6 0" stroke-width="1.6" fill="none" stroke-dasharray="1.2 0.8"/>
<path d="M201.2 604.2 a3 3 0 1 0 6 0 a3 3 0 1 0 -6 0" stroke-width="1.6" fill="none" stroke-dasharray="1.2 0.8"/>
<path d="M183.5 604C184.2 604.4 186.4 605.8 188 606.5C189.6 607.2 191.2 607.6 193 608C194.8 608.4 197.2 609 199 609C200.8 609 203.2 608.2 204 608" stroke-width="1.2" fill="none" />
<path d="M153 638 L158 634 L159 641 L176 648 L178 644 L183 652 L186 664 L181 663 L179 657 L159 648 L154 648Z" stroke-width="1.1" fill="none" />
<path d="M163 643 L176 648 L176 654 L163 649Z" stroke-width="0.9" fill="none" />
<path d="M78 681 L85 679.5 L103 678 L107.7 683.5 L104.5 692.2 L86 691 L80 688Z" stroke-width="1.3" fill="none" />
<path d="M85 679.5 L86 691 M80 684 L78 690 M82 683 L79 688" stroke-width="1.2" fill="none" />
<path d="M54.5 698.6 L69 693.8 L70 695.6 L55.5 700.3Z" stroke-width="1" fill="none" />
</g>
<g id="plate" stroke="#2a2a2a">
<path d="M540 544 Q539.5 537 544 536 L618 580 Q621 582 620 586 L618.5 592 Q617 595 614 594 L541 549 Q539.5 548 540 544Z" stroke-width="1.3" fill="none" />
<path d="M544 537.5 L619 582.5" stroke-width="0.9" fill="none" />
<path d="M513.5 576 Q513 570 518 569.5 L593 614 Q595.5 616 595 619 L593 626 Q591.5 629 589 628 L515 584 Q513 583 513.5 576Z" stroke-width="1.3" fill="none" />
<path d="M517 570.5 L594 615.5" stroke-width="0.9" fill="none" />
<path d="M538.6 589.6 m-1 0 a1 1 0 1 0 2 0 a1 1 0 1 0 -2 0 M558.6 602.6 m-1 0 a1 1 0 1 0 2 0 a1 1 0 1 0 -2 0" stroke-width="1.2" fill="none" />
<path d="M480.5 598C481.1 597.2 477.4 590.8 484 593.5C490.6 596.2 509.5 607.8 520 614C530.5 620.2 541 626.8 547 631C553 635.2 553.7 635.5 556 639C558.3 642.5 559.8 647.8 561 652C562.2 656.2 563 660.5 563 664C563 667.5 562.3 670.8 561 673C559.7 675.2 557.2 676.9 555 677.5C552.8 678.1 549.2 676.7 548 676.5" stroke-width="1.4" fill="none" />
<path d="M480.5 598 L480 634 Q481 641 486 644 L520 662 L522.5 664.5 L522 672" stroke-width="1.4" fill="none" />
<path d="M484 594 L483 600 L548 638 Q556 645 558 660 L558 672 L552 677" stroke-width="1.0" fill="none" />
<path d="M482 603 L550 642" stroke-width="0.8" fill="none" />
<path d="M482 608 L547 645" stroke-width="0.7" fill="none" />
<path d="M487.5 617 L488 625 L547 659 L547.5 651Z" stroke-width="1.3" fill="#9a9a9a" />
<path d="M489 620 L546 653" stroke-width="1.6" fill="none" stroke="#2a2a2a" stroke-dasharray="1 1.2"/>
<path d="M487 628 L487.5 636 L547 670 L547.5 662Z" stroke-width="1.3" fill="#9a9a9a" />
<path d="M488.5 631 L546 664" stroke-width="1.6" fill="none" stroke="#2a2a2a" stroke-dasharray="1 1.2"/>
<path d="M494 614 l0.5 0 M514 626 l0.5 0 M535 639 l0.5 0" stroke-width="2" fill="none" />
<path d="M522 672 L517 677 L515 688 L511.5 686.5 L512 689 L519 692 L520 690 L537 699 L546 699" stroke-width="1.1" fill="none" />
<path d="M523 673 L546 684 M520 682 L541 692" stroke-width="0.9" fill="none" />
<path d="M537 686 Q541 680 547 682 Q551 685 550 692 Q548 699 542 699 Q536 697 537 686Z" stroke-width="1.4" fill="none" />
<path d="M540 688 a2 2 0 1 0 5 0 a2 2 0 1 0 -5 0" stroke-width="1.1" fill="none" />
<path d="M536 692 L538 700" stroke-width="1.2" fill="none" />
<path d="M548.5 700 L553 698 L555.5 701.5 L551 703.5Z" stroke-width="1.3" fill="none" />
<path d="M555 703.5 L566 709.5" stroke-width="4.8" fill="none" stroke-linecap="round"/>
<path d="M568.3 711 m-3 0 a3 3.2 0 1 0 6 0 a3 3.2 0 1 0 -6 0" stroke-width="1.5" fill="#fff" />
</g>
<g id="bar" stroke="#2a2a2a">
<path d="M839.2 683.5 L943 573.5 Q947 571 951 571.5 Q956.5 574 956.5 580 Q956 588 948 601.3 L931 619.4 L851.3 707.6 Q840 718 832 720.9 Q828.5 721 828 718 L824.7 706.4 Q830 694 836.8 687.1Z" stroke-width="1.2" fill="none" />
<path d="M838 687 L944 575.5 M839.5 688 L945.5 576.5" stroke-width="0.7" fill="none" />
<path d="M830.5 709 L856.5 680.5 Q859.5 679 859.5 682.5 L833 711.5 Q830 712 830.5 709Z" stroke-width="1.1" fill="none" />
<path d="M839.8 693.7 m-1.2 0 a1.2 1.3 0 1 0 2.4 0 a1.2 1.3 0 1 0 -2.4 0 M843.4 706.4 m-1.2 0 a1.2 1.3 0 1 0 2.4 0 a1.2 1.3 0 1 0 -2.4 0" stroke-width="1.1" fill="none" />
<path d="M826 705 L829 710 L828 717" stroke-width="0.8" fill="none" />
<path d="M960.5 537.5 L964.5 535.2 L972.5 571.5 L968.5 573.5Z" stroke-width="1.5" fill="#2a2a2a" />
<path d="M963.9 535.3 L1026.9 468.5 Q1034 460 1041 457.4 L1049 457 Q1054 459 1054 466 L1053.5 473 Q1051 481 1047.3 487.1 L1026 513 L972.2 570.5" stroke-width="1.4" fill="none" />
<path d="M966.7 539 L1028 473 Q1035 466 1041 463" stroke-width="1.0" fill="none" />
<path d="M965 537 L1027.5 470.5" stroke-width="2.4" fill="none" stroke="#555"/>
<path d="M966.7 539 L970 555 M968 541 L1029 476 Q1036 468 1044 466" stroke-width="0.9" fill="none" />
<path d="M1012 498 L1035 472 Q1039 468.5 1043 469.5 Q1046 472 1044.5 478 Q1041 485 1036 490 L1016 512" stroke-width="1.6" fill="none" />
<path d="M1018 499 L1035 481.5 Q1036.5 480 1036 483 L1020 500.5 Q1017.5 502 1018 499Z" stroke-width="1.6" fill="none" />
<path d="M981.5 529.7 L1010 504.7 L1012 513 L985 545.5 Q982 547 980.5 543 L979.5 533Z" stroke-width="1.4" fill="none" />
<path d="M984 534 L1007 510.5 L1008.5 514.5 L986 541Z" stroke-width="1.8" fill="#fff" />
<path d="M987 540 L991 531 L994 538 M995 533 L998 528 L1000 530 L1002 524 M1003 522 Q1008 518 1007 514" stroke-width="1.2" fill="none" />
<path d="M970 544 L980 538 L982 555 L972 560Z" stroke-width="1.0" fill="#2a2a2a" />
<path d="M971.5 546 L979 541.5 M972 550 L980 545.5 M972.5 554 L980.5 549.5" stroke-width="0.9" fill="none" stroke="#fff"/>
<path d="M983 548 L1013 514 M1003 524 L1012 515" stroke-width="0.8" fill="none" />
</g>
<g id="housingL" stroke="#2a2a2a">
<path d="M206.2 822.1C193.9 815 146.4 787.2 132.2 779.6C118 772 124.6 776.3 121.2 776.8C117.8 777.2 113.6 780 111.6 782.3C109.5 784.6 109.1 785.7 108.9 790.5C108.7 795.3 109.2 804.2 110.3 811.1C111.4 818 113.8 825.7 115.8 831.6C117.8 837.5 119.9 842.1 122.6 846.7C125.3 851.3 128.3 855.1 132.2 859C136.1 862.9 140 866.1 145.9 870C151.8 873.9 164.2 880.2 167.8 882.3" stroke-width="1.3" fill="none" />
<path d="M199.3 834.4C186.8 827.7 137 800.9 124 794C111 787.1 120.8 790.4 121.2 793.3C121.7 796.1 124.9 804.5 126.7 811.1C128.5 817.7 130.4 827.5 132.2 833C134 838.5 135 840.6 137.7 844C140.4 847.4 142.7 849.5 148.6 853.6C154.5 857.7 169.2 866.1 173.3 868.6" stroke-width="1.2" fill="none" />
<path d="M122.3 796C123.2 799 125.7 807.2 127.5 813.8C129.3 820.4 131 830.3 132.9 835.8C134.8 841.3 136.2 843.4 139 846.7C141.8 850 144.5 851.8 150 855.6C155.5 859.4 168.2 867 171.9 869.3" stroke-width="2.2" fill="none" />
<path d="M132.2 780.3 L203.4 820.7" stroke-width="2.0" fill="none" />
<ellipse cx="203.4" cy="829.6" rx="5.3" ry="7.2" transform="rotate(15 203.4 829.6)" stroke-width="1.3" fill="#fff"/>
<ellipse cx="204.20000000000002" cy="829.6" rx="4" ry="6" transform="rotate(15 203.4 829.6)" stroke-width="0.9" fill="none"/>
<path d="M203.4 829.6 m-0.6 0 a0.6 0.6 0 1 0 1.2 0 a0.6 0.6 0 1 0 -1.2 0" stroke-width="1.0" fill="none" />
<path d="M167.8 874.1 L178.8 868.6 L187.0 878.2 L181.5 886.4 L169.2 882.3Z" stroke-width="1.3" fill="#333" />
<path d="M171.9 874.1 L177.4 885.1" stroke-width="0.9" fill="none" stroke="#fff"/>
<path d="M176.0 872.1 L181.5 883.7" stroke-width="0.9" fill="none" stroke="#fff"/>
<path d="M180.1 870.7 L184.9 881.0" stroke-width="0.9" fill="none" stroke="#fff"/>
<path d="M65.1 875.5 L85.6 860.4 L117.1 852.2 L124.0 854.9 L124.0 889.2 L114.4 898.8 L74.7 924.8 L58.2 916.6 L63.7 879.6Z" stroke-width="1.5" fill="none" />
<path d="M73.3 878.2 L88.4 864.5 L115.8 857.7 L118.5 860.4 L117.1 893.3 L74.7 917.9 L70.5 913.8" stroke-width="1.2" fill="none" />
<path d="M85.6 860.4 L89.7 864.5" stroke-width="1.0" fill="none" />
<path d="M115.8 857.7 L124.0 854.9" stroke-width="1.0" fill="none" />
<path d="M117.1 893.3 L124.0 889.2" stroke-width="1.0" fill="none" />
<path d="M73.3 879.6 L107.5 865.9 L108.9 897.4 L74.7 907.0Z" stroke-width="1.3" fill="none" />
<path d="M76.0 881.0 L104.8 868.6 L105.5 893.3 L76.7 902.9Z" stroke-width="1.0" fill="#555" />
<path d="M93.8 875.5 L103.4 872.1 L104.1 890.5 L94.5 894.0Z" stroke-width="1.0" fill="#fff" />
<path d="M95.9 876.8 L101.4 875.2 L101.8 889.2 L96.3 890.8Z" stroke-width="1.2" fill="#333" />
<path d="M97.7 878.2 L99.6 877.7 L99.9 888.5 L97.9 889.2Z" stroke-width="0.6" fill="#fff" />
<path d="M76.7 885.1 L92.5 879.6" stroke-width="1.1" fill="none" stroke="#fff"/>
<path d="M76.7 889.2 L92.5 883.7" stroke-width="1.1" fill="none" stroke="#fff"/>
<path d="M76.7 893.3 L92.5 887.8" stroke-width="1.1" fill="none" stroke="#fff"/>
<path d="M76.7 897.4 L92.5 891.9" stroke-width="1.1" fill="none" stroke="#fff"/>
<path d="M76.7 901.5 L92.5 896.0" stroke-width="1.1" fill="none" stroke="#fff"/>
<path d="M60.3 883.7 L72.6 879.6" stroke-width="1.3" fill="none" />
<path d="M60.3 888.2 L72.6 884.1" stroke-width="1.3" fill="none" />
<path d="M60.3 892.7 L72.6 888.6" stroke-width="1.3" fill="none" />
<path d="M60.3 897.3 L72.6 893.2" stroke-width="1.3" fill="none" />
<path d="M60.3 901.8 L72.6 897.7" stroke-width="1.3" fill="none" />
<path d="M60.3 906.3 L72.6 902.2" stroke-width="1.3" fill="none" />
<path d="M60.3 910.8 L72.6 906.7" stroke-width="1.3" fill="none" />
<path d="M60.3 915.3 L72.6 911.2" stroke-width="1.3" fill="none" />
<path d="M60.3 919.9 L72.6 915.8" stroke-width="1.3" fill="none" />
<path d="M63.7 879.6 L58.2 916.6" stroke-width="1.2" fill="none" />
<path d="M70.5 915.2 L115.8 893.3" stroke-width="1.0" fill="none" />
<path d="M71.9 918.6 L117.1 897.4" stroke-width="1.0" fill="none" stroke-dasharray="2 1"/>
<path d="M71.3 922.1 a2 2 0 1 0 4 0 a2 2 0 1 0 -4 0" stroke-width="1.2" fill="none" />
<path d="M59.2 916.6 a1.8 1.8 0 1 0 3.6 0 a1.8 1.8 0 1 0 -3.6 0" stroke-width="1.1" fill="none" />
<path d="M120 917 Q119 935 122 951 L125 950 L136 921 L139 915 L133 913 Z" stroke-width="1.2" fill="none" />
<path d="M121.5 923 L135.0 919" stroke-width="1.6" fill="none" />
<path d="M121.5 928 L133.7 924" stroke-width="1.6" fill="none" />
<path d="M121.5 933 L132.4 929" stroke-width="1.6" fill="none" />
<path d="M121.5 938 L131.1 934" stroke-width="1.6" fill="none" />
<path d="M121.5 943 L129.8 939" stroke-width="1.6" fill="none" />
<path d="M121.5 948 L128.5 944" stroke-width="1.6" fill="none" />
<path d="M87.4 1008.3 L91.1 1000.8 L154.1 937.8 L155.1 921.2 L157.8 908.2 L167.1 901.7 L180.1 898.0 L191.2 897.1 L194.9 887.8 L198.6 879.5 L226.4 869.3 L263.5 867.4 L283.9 867.4 L295.0 872.0 L297.8 882.2 L295.9 923.0 L289.4 929.5 L209.7 978.6 L194.9 984.2 L167.1 1000.8 L117.1 1030.5 L109.7 1036.1 L102.2 1033.3 L91.1 1019.4Z" stroke-width="1.5" fill="none" />
<path d="M289.4 929.5 L209.7 978.6 L194.9 984.2 L167.1 1000.8 L117.1 1030.5 L109.7 1036.1" stroke-width="2.6" fill="none" />
<path d="M226.4 890.6 L272.7 873.9" stroke-width="2.8" fill="none" />
<path d="M198.6 885.9 L228.3 877.6 L228.3 890.6 L224.6 908.2" stroke-width="1.2" fill="none" />
<path d="M198.6 885.9 L196.8 891.5 L220.8 904.5 L224.6 908.2" stroke-width="1.1" fill="none" />
<path d="M213.4 882.2 L228.3 878.5" stroke-width="1.2" fill="none" />
<path d="M215.3 883.2 L226.4 880.4 L228.3 883.2 L217.1 885.9" stroke-width="1.2" fill="#555" />
<path d="M156 934.1C156.6 932 158.2 925.2 159.7 921.2C161.2 917.2 162.1 912.8 165.2 910C168.3 907.2 173.2 905.6 178.2 904.5C183.1 903.4 191 903.1 194.9 903.6C198.8 904.1 200.3 906.7 201.4 907.3" stroke-width="1.6" fill="none" />
<path d="M161.5 937.8C162 935 163.1 924.9 164.3 921.2C165.6 917.5 166.4 917.2 169 915.6C171.6 914 175.8 912.8 180.1 911.9C184.4 911 192.4 910.3 194.9 910" stroke-width="1.1" fill="none" />
<path d="M93.0 1004.6 L156.0 932.3" stroke-width="1.2" fill="none" />
<path d="M98.5 1007.3 L159.7 936.0" stroke-width="1.2" fill="none" />
<path d="M105.9 1012.0 L163.4 947.1" stroke-width="1.0" fill="none" />
<path d="M170.8 960.1 L172.7 995.3" stroke-width="2.2" fill="none" />
<path d="M167.1 958.2 L169.0 993.4" stroke-width="1.0" fill="none" />
<path d="M104.1 1026.8 L169.0 995.3" stroke-width="1.3" fill="none" />
<path d="M107.8 1021.2 L135.6 1008.3 L157.8 989.7 L161.5 974.9" stroke-width="1.0" fill="none" />
<path d="M159.7 934.1 L167.1 930.4 L174.5 937.8 L172.7 947.1 L163.4 952.7 L157.8 947.1Z" stroke-width="1.2" fill="none" />
<path d="M161.5 941.5 L169.0 937.8 L170.8 943.4 L164.3 947.1Z" stroke-width="1.4" fill="#333" />
<path d="M133.7 963.8 L139.3 961.9 L141.2 971.2 L135.6 973.0Z" stroke-width="1.3" fill="#444" />
<path d="M120.8 978.6 L126.3 976.8 L126.3 984.2 L121.7 986.0Z" stroke-width="1.2" fill="none" />
<path d="M141.2 960.1 L146.7 958.2 L144.9 967.5" stroke-width="1.2" fill="none" />
<path d="M94.8 1013.8 L105.9 1006.4 L109.7 1026.8 L102.2 1031.4" stroke-width="1.2" fill="none" />
<path d="M172.7 962.9 L265.3 934.1" stroke-width="1.0" fill="none" />
<path d="M174.5 969.3 L280.1 931.3" stroke-width="1.0" fill="none" />
<path d="M191.2 974.9 L283.9 941.5" stroke-width="1.0" fill="none" />
<path d="M176.4 963.8 L198.6 978.6" stroke-width="1.0" fill="none" />
<path d="M189.3 960.1 L207.9 973.0" stroke-width="1.0" fill="none" />
<path d="M183.8 937.8 L187.5 963.8" stroke-width="1.0" fill="none" />
<path d="M185.6 949.0 L198.6 943.4" stroke-width="1.0" fill="none" />
<path d="M191.2 915.6 L220.8 910.0" stroke-width="1.0" fill="none" />
<path d="M195.1 932.9 L205.1 939.4" stroke-width="1.5" fill="none" />
<path d="M198.5 930.9 L208.5 937.4" stroke-width="1.5" fill="none" />
<path d="M201.9 928.9 L211.9 935.4" stroke-width="1.5" fill="none" />
<path d="M205.4 926.9 L215.4 933.4" stroke-width="1.5" fill="none" />
<path d="M208.8 924.9 L218.8 931.4" stroke-width="1.5" fill="none" />
<path d="M212.2 922.9 L222.2 929.4" stroke-width="1.5" fill="none" />
<path d="M215.6 920.9 L225.6 927.4" stroke-width="1.5" fill="none" />
<path d="M219.0 918.9 L229.0 925.4" stroke-width="1.5" fill="none" />
<path d="M222.5 916.9 L232.5 923.4" stroke-width="1.5" fill="none" />
<path d="M247.2 919.3 a7 7 0 1 0 14 0 a7 7 0 1 0 -14 0" stroke-width="1.5" fill="none" />
<path d="M250.2 919.3 a4 4 0 1 0 8 0 a4 4 0 1 0 -8 0" stroke-width="1.3" fill="none" />
<path d="M252.7 919.3 a1.5 1.5 0 1 0 3 0 a1.5 1.5 0 1 0 -3 0" stroke-width="1.5" fill="#333" />
<path d="M250.5 887.8 L248.6 915.6" stroke-width="1.3" fill="none" />
<path d="M257.9 887.8 L257.9 911.9" stroke-width="1.8" fill="none" />
<path d="M265.3 887.8 L265.3 913.7" stroke-width="1.3" fill="none" />
<path d="M248.6 885.9 L257.9 882.2 L267.2 884.1 L265.3 891.5 L252.3 893.4Z" stroke-width="1.3" fill="#444" />
<path d="M257.9 882.2C259.4 881.6 264.4 878.8 267.2 878.5C270 878.2 273.7 878.9 274.6 880.4C275.5 881.9 274.2 885.9 272.7 887.8C271.1 889.6 266.5 890.9 265.3 891.5" stroke-width="2.2" fill="none" />
<path d="M270.9 874.8 L272.7 930.4" stroke-width="1.0" fill="none" />
<path d="M283.9 873.0 L285.7 926.7" stroke-width="1.0" fill="none" />
<path d="M269.0 887.8 L295.9 893.4" stroke-width="1.0" fill="none" />
<path d="M269.0 900.8 L295.9 906.3" stroke-width="1.0" fill="none" />
<path d="M269.0 911.9 L295.0 917.4" stroke-width="1.0" fill="none" />
<path d="M265.3 923.0 L283.9 932.3" stroke-width="1.4" fill="none" />
<path d="M263.5 930.4 L280.1 936.0" stroke-width="1.4" fill="none" />
<path d="M286.4 925.8 a3 3 0 1 0 6 0 a3 3 0 1 0 -6 0" stroke-width="1.4" fill="none" />
<path d="M212.3 970.3 a3 3.5 0 1 0 6 0 a3 3.5 0 1 0 -6 0" stroke-width="1.6" fill="none" />
<path d="M163.2 998.1 a3 3 0 1 0 6 0 a3 3 0 1 0 -6 0" stroke-width="1.4" fill="none" />
<path d="M189.2 941.5 a2 2 0 1 0 4 0 a2 2 0 1 0 -4 0" stroke-width="1.3" fill="none" />
<path d="M199.0 921.2 a1.5 1.5 0 1 0 3 0 a1.5 1.5 0 1 0 -3 0" stroke-width="1.3" fill="none" />
<path d="M291 946 L303.5 952.5" stroke-width="3.4" fill="none" stroke-linecap="round"/>
<path d="M303.5 952.5 m-2.6 0 a2.6 2.6 0 1 0 5.2 0 a2.6 2.6 0 1 0 -5.2 0" stroke-width="1.2" fill="#fff" />
<path d="M175 1002 L184.5 1008.5" stroke-width="3.4" fill="none" stroke-linecap="round"/>
<path d="M184.5 1008.5 m-2.6 0 a2.6 2.6 0 1 0 5.2 0 a2.6 2.6 0 1 0 -5.2 0" stroke-width="1.2" fill="#fff" />
<path d="M192 996 L201.5 1003" stroke-width="3.4" fill="none" stroke-linecap="round"/>
<path d="M201.5 1003 m-2.6 0 a2.6 2.6 0 1 0 5.2 0 a2.6 2.6 0 1 0 -5.2 0" stroke-width="1.2" fill="#fff" />
<path d="M234.5 970 L262.7 983.4 L268.4 1018.3 L236.8 1002.6Z" stroke-width="1.4" fill="none" />
<path d="M262.7 983.4 L265 985 L270 1019 L268.4 1018.3" stroke-width="1.2" fill="none" />
</g>
<g id="housingR" stroke="#2a2a2a">
<path d="M281.2 1003.7C281.2 1000 283.5 994.5 286.2 991.2C288.9 987.9 292.7 985.8 297.5 983.7C302.3 981.6 308.4 979.7 315 978.7C321.6 977.8 329.9 979.5 337.4 978C344.9 976.5 350.3 972.7 359.9 970C369.5 967.3 385.7 962.4 394.9 962C404.1 961.6 409.5 964.9 414.9 967.5C420.3 970.1 424.9 974 427.4 977.5C429.9 981 429.9 985.4 429.9 988.7C429.9 992 431.6 995 427.4 997.5C423.2 1000 411.1 1002.1 404.9 1003.7C398.6 1005.4 395.1 1005.5 389.9 1007.4C384.7 1009.3 377.9 1012.4 373.7 1014.9C369.5 1017.4 368.9 1020.1 364.9 1022.4C360.9 1024.7 355.7 1027 349.9 1028.7C344.1 1030.5 337.4 1033.3 329.9 1032.9C322.4 1032.5 312.3 1029.4 305 1026.2C297.7 1023 290.2 1017.5 286.2 1013.7C282.2 1010 281.2 1007.5 281.2 1003.7Z" stroke-width="1.5" fill="none" />
<path d="M287.5 1002.5C288.7 999.1 292.9 994.2 297.5 991.2C302.1 988.2 308.4 985.7 315 984.5C321.6 983.3 329.9 982.6 337.4 984C344.9 985.4 354.8 989.4 359.9 993C365 996.6 367.1 1001.9 367.9 1005.5C368.7 1009.1 367.1 1012.4 364.9 1014.9C362.7 1017.4 360.7 1018.6 354.9 1020.4C349.1 1022.1 338.2 1025.4 329.9 1025.4C321.6 1025.4 311.6 1022.7 305 1020.4C298.4 1018.1 293.4 1014.7 290.5 1011.7C287.6 1008.7 286.3 1005.9 287.5 1002.5Z" stroke-width="1.3" fill="none" />
<path d="M290 1001.2C292.5 1000.5 298.4 997.2 305 997C311.6 996.8 321.6 997.4 329.9 1000C338.2 1002.6 349.5 1009.5 354.9 1012.4C360.3 1015.3 361.1 1016.6 362.4 1017.4" stroke-width="0.9" fill="none" />
<path d="M295 1006.2C295.8 1005.2 299.2 1001 300 1000" stroke-width="0.9" fill="none" />
<path d="M329.9 980.0 L372.4 1001.2" stroke-width="1.1" fill="none" />
<path d="M339.9 977.0 L379.9 996.2 L377.4 1002.5" stroke-width="1.1" fill="none" />
<path d="M354.9 972.5 L394.9 991.2 L394.9 996.2" stroke-width="1.1" fill="none" />
<path d="M364.9 971.2 L402.4 988.7" stroke-width="1.1" fill="none" />
<path d="M377.4 967.5 L414.9 982.5" stroke-width="1.1" fill="none" />
<path d="M384.9 965.0 L419.9 977.5 L424.9 987.5" stroke-width="1.0" fill="none" />
<path d="M372.4 1001.2 L394.9 996.2 L419.9 990.0 L427.4 988.7" stroke-width="1.0" fill="none" />
<path d="M372.4 1014.9 L372.4 1003.7 L389.9 1000.0" stroke-width="1.0" fill="none" />
<path d="M384.9 963.7 L391.1 962.0 L394.9 967.5 L388.6 968.7Z" stroke-width="1.0" fill="#444" />
<path d="M404.9 960.0 L409.9 961.2 L407.4 965.0Z" stroke-width="1.0" fill="none" />
<path d="M404.9 980.0 L412.4 975.0 L417.4 977.5 L409.9 982.5Z" stroke-width="1.0" fill="none" />
<path d="M374.9 1006.2 L378.7 1005.5 L378.7 1009.9 L375.4 1010.7Z" stroke-width="1.0" fill="#444" />
<path d="M383.7 1005.0 L387.4 1004.2 L387.4 1008.7 L384.2 1009.4Z" stroke-width="1.0" fill="#444" />
<path d="M397.4 958C400.3 957.7 409.5 955.5 414.9 956.2C420.3 957 425.5 959.8 429.9 962.5C434.3 965.2 438.5 969.9 441.1 972.5C443.7 975.1 444.7 977.1 445.4 978" stroke-width="1.3" fill="none" />
<path d="M445.4 978.0 L437.4 981.2 L429.9 972.5 L414.9 963.7 L398.6 961.2 L397.4 958.0" stroke-width="1.3" fill="none" />
<path d="M434.9 977.5 L442.4 977.0" stroke-width="1.0" fill="none" />
<path d="M263.7 1133.6 L270.0 1124.9 L334.9 1059.9 L342.4 1051.2 L359.9 1057.4 L372.4 1062.4 L394.9 1062.4 L404.9 1057.4 L417.4 1049.9 L429.9 1044.9 L444.9 1034.9 L452.4 1029.9 L469.8 1019.9 L487.3 1014.9" stroke-width="1.6" fill="none" />
<path d="M487.3 1014.9 L486.1 1059.9 L469.8 1072.4 L449.9 1089.9 L429.9 1104.9 L414.9 1112.4 L394.9 1119.9 L379.9 1129.9 L332.4 1152.3 L305.0 1166.1 L280.0 1166.1 L266.2 1147.3 L263.7 1133.6" stroke-width="1.6" fill="none" />
<path d="M270.0 1124.9 L280.0 1139.9 L282.5 1154.8 L290.0 1159.8" stroke-width="1.1" fill="none" />
<path d="M272.5 1129.9 L337.4 1064.9" stroke-width="1.2" fill="none" />
<path d="M280.0 1132.4 L339.9 1071.2" stroke-width="1.2" fill="none" />
<path d="M337.4 1064.9 L339.9 1071.2" stroke-width="1.2" fill="none" />
<path d="M281.2 1133.6 L300.0 1144.8 L364.9 1129.9 L397.4 1119.9" stroke-width="1.2" fill="none" />
<path d="M282.5 1139.9 L295.0 1157.3 L305.0 1164.8" stroke-width="1.1" fill="none" />
<path d="M300.0 1144.8 L305.0 1164.8" stroke-width="1.0" fill="none" />
<path d="M339.9 1071.2 L349.9 1074.9 L367.4 1079.9 L394.9 1072.4 L404.9 1067.4 L429.9 1057.4" stroke-width="1.1" fill="none" />
<path d="M339.9 1072.4 L342.4 1114.9 L344.9 1129.9" stroke-width="1.0" fill="none" />
<path d="M329.9 1087.4 L337.4 1084.9 L339.9 1089.9" stroke-width="1.0" fill="none" />
<path d="M394.9 1079.9 L394.9 1119.9" stroke-width="1.0" fill="none" />
<path d="M379.9 1129.9 L381.2 1134.9" stroke-width="1.0" fill="none" />
<path d="M404.9 1112.4 L414.9 1112.4 L417.4 1102.4" stroke-width="1.0" fill="none" />
<path d="M362 1090 L402 1082 L392 1120 L365 1122Z" stroke-width="1.2" fill="none" />
<path d="M364 1092.0 Q380 1086.0 399.0 1088.0" stroke-width="1.8" fill="none" />
<path d="M364 1096.6 Q380 1090.6 397.5 1092.6" stroke-width="1.8" fill="none" />
<path d="M364 1101.2 Q380 1095.2 396.0 1097.2" stroke-width="1.8" fill="none" />
<path d="M364 1105.8 Q380 1099.8 394.5 1101.8" stroke-width="1.8" fill="none" />
<path d="M364 1110.4 Q380 1104.4 393.0 1106.4" stroke-width="1.8" fill="none" />
<path d="M364 1115.0 Q380 1109.0 391.5 1111.0" stroke-width="1.8" fill="none" />
<path d="M367 1114 L368 1120 L373 1120 L373 1116 M376 1118 L380 1114 L381 1119" stroke-width="1.2" fill="none" />
<path d="M407.0 1106.0 L415.0 1101.0" stroke-width="1.6" fill="none" />
<path d="M410.2 1102.4 L418.2 1097.4" stroke-width="1.6" fill="none" />
<path d="M413.4 1098.8 L421.4 1093.8" stroke-width="1.6" fill="none" />
<path d="M416.6 1095.2 L424.6 1090.2" stroke-width="1.6" fill="none" />
<path d="M419.8 1091.6 L427.8 1086.6" stroke-width="1.6" fill="none" />
<path d="M423.0 1088.0 L431.0 1083.0" stroke-width="1.6" fill="none" />
<path d="M426.2 1084.4 L434.2 1079.4" stroke-width="1.6" fill="none" />
<path d="M392.4 1022.4 L394.9 1017.4 L404.9 1016.2 L424.9 1022.4 L434.9 1029.9 L429.9 1039.9 L414.9 1044.9 L402.4 1041.2 L392.4 1034.9Z" stroke-width="1.3" fill="none" />
<path d="M394.9 1017.4 L404.9 1019.9 L427.4 1026.2 L434.9 1029.9" stroke-width="1.0" fill="none" />
<path d="M404.9 1019.9 L402.4 1041.2" stroke-width="1.0" fill="none" />
<path d="M429.9 1000.0 L447.4 1000.0 L454.9 1002.5 L469.8 1002.5 L474.8 1006.2 L487.3 1014.9" stroke-width="1.2" fill="none" />
<path d="M429.9 1000.0 L431.1 1005.0 L444.9 1007.4 L454.9 1008.7 L472.3 1009.9 L486.1 1014.9" stroke-width="1.0" fill="none" />
<path d="M444.9 1002.5 L449.9 1002.5 L454.9 1007.4 L449.9 1008.7Z" stroke-width="1.2" fill="#333" />
<path d="M457.3 1000.0 L464.8 998.7 L472.3 1002.5 L469.8 1005.5" stroke-width="1.1" fill="none" />
<path d="M464.8 1005.5 L472.3 1005.5 L472.3 1009.4 L466.1 1009.4Z" stroke-width="1.1" fill="none" />
<path d="M434.9 1029.9 L444.9 1022.4 L454.9 1019.9 L469.8 1017.4 L484.8 1014.9" stroke-width="1.0" fill="none" />
<path d="M429.9 1039.9 L439.9 1034.9" stroke-width="1.0" fill="none" />
<path d="M441 1038 L487 1015 L487 1055 L441 1079Z" stroke-width="0.9" fill="none" />
<path d="M443 1049 L449 1047 L449 1066 L443 1070 Z" stroke-width="1.1" fill="none" />
<path d="M446 1052 L470 1041 L472 1066 L448 1076Z" stroke-width="1.5" fill="none" />
<path d="M451 1055 L467 1047 L468 1060 L452 1068Z" stroke-width="1.6" fill="#2a2a2a" />
<path d="M453 1057 a3 3 0 1 0 6 0 a3 3 0 1 0 -6 0 M459 1053 a3 3 0 1 0 6 0 a3 3 0 1 0 -6 0" stroke-width="1.0" fill="#fff" />
<path d="M474 1030 L478 1028 L479 1064 L475 1066Z" stroke-width="1.2" fill="none" />
<path d="M448.7 1037 a2.3 2.3 0 1 0 4.6 0 a2.3 2.3 0 1 0 -4.6 0" stroke-width="1.2" fill="none" />
<path d="M456 1043 L462 1040 L463 1045 L457 1048Z" stroke-width="1.1" fill="none" />
<path d="M490 1009 L507 1005 L506 1013 L509 1018 L505 1025 L508 1032 L504 1040 L507 1047 L503 1053 L506 1061 L499 1064 L490 1061Z" stroke-width="1.2" fill="none" />
<path d="M494 1013 L498 1012 L498 1030 L494 1031Z" stroke-width="1.3" fill="none" />
<path d="M490 1055 L498 1058 L502 1063" stroke-width="1.0" fill="none" />
<path d="M420 1165 L445 1103 Q449 1100 456 1102 Q459 1105 457 1110 L430 1165 L429 1170 L420 1171Z" stroke-width="1.3" fill="none" />
<path d="M432 1145 L442 1121 L446 1121 L436 1146Z" stroke-width="1.6" fill="none" />
<path d="M448.5 1109 a1.5 1.5 0 1 0 3 0 a1.5 1.5 0 1 0 -3 0 M426.7 1156 a1.3 1.3 0 1 0 2.6 0 a1.3 1.3 0 1 0 -2.6 0 M432.7 1158 a1.3 1.3 0 1 0 2.6 0 a1.3 1.3 0 1 0 -2.6 0" stroke-width="1.1" fill="none" />
<path d="M375 1147 L415 1145 L405 1175 L381 1182Z" stroke-width="1.2" fill="none" />
<path d="M376.0 1150.0 Q392 1147.0 413.0 1146.0" stroke-width="1.7" fill="none" />
<path d="M376.6 1154.3 Q392 1151.3 411.7 1150.3" stroke-width="1.7" fill="none" />
<path d="M377.2 1158.6 Q392 1155.6 410.4 1154.6" stroke-width="1.7" fill="none" />
<path d="M377.8 1162.9 Q392 1159.9 409.1 1158.9" stroke-width="1.7" fill="none" />
<path d="M378.4 1167.2 Q392 1164.2 407.8 1163.2" stroke-width="1.7" fill="none" />
<path d="M379.0 1171.5 Q392 1168.5 406.5 1167.5" stroke-width="1.7" fill="none" />
<path d="M379.6 1175.8 Q392 1172.8 405.2 1171.8" stroke-width="1.7" fill="none" />
<path d="M462 1082 L466 1080 L514 1117 L509 1121Z" stroke-width="1.2" fill="none" />
<path d="M488 1100 L492 1098" stroke-width="1.0" fill="none" />
<path d="M497 1105 L502 1101 L514 1117 L509 1121Z" stroke-width="1.2" fill="#2a2a2a" />
<path d="M516 1125 m-3 0 a3 4.8 -20 1 0 6 0 a3 4.8 -20 1 0 -6 0" stroke-width="1.4" fill="none" />
<path d="M516 1125 m-1.5 0 a1.5 3 -20 1 0 3 0 a1.5 3 -20 1 0 -3 0" stroke-width="1.0" fill="none" />
<path d="M527 1107 L542 1101 L545 1105 L530 1112Z" stroke-width="1.3" fill="none" />
<path d="M529 1107 L542 1102" stroke-width="2.2" fill="none" />
<path d="M520 1140 L522 1132 L546 1121 L554 1117 L555 1136 L528 1155 L521 1152Z" stroke-width="1.2" fill="none" />
<path d="M528 1120 L532 1114 L536 1117 L537 1121 M540 1118 L544 1112 L547 1117" stroke-width="1.1" fill="none" />
<path d="M527 1140 L551 1128 L552 1140 L529 1151Z" stroke-width="1.3" fill="none" />
<path d="M532 1138 L540 1134 L540 1146 L533 1149Z" stroke-width="1.2" fill="#2a2a2a" />
<path d="M536 1131 L548 1126 L548 1131 L537 1136Z" stroke-width="1.0" fill="none" />
<path d="M482 1142 L494 1149" stroke-width="3.4" fill="none" stroke-linecap="round"/>
<path d="M494 1149 m-2.6 0 a2.6 2.6 0 1 0 5.2 0 a2.6 2.6 0 1 0 -5.2 0" stroke-width="1.2" fill="#fff" />
<path d="M316 1035 L329 1042" stroke-width="3.4" fill="none" stroke-linecap="round"/>
<path d="M329 1042 m-2.6 0 a2.6 2.6 0 1 0 5.2 0 a2.6 2.6 0 1 0 -5.2 0" stroke-width="1.2" fill="#fff" />
<path d="M448.5 1159 m-2.5 0 a2.5 3 0 1 0 5 0 a2.5 3 0 1 0 -5 0" stroke-width="1.4" fill="none" />
<path d="M459 1165 L466 1160 L474 1164 L475 1172 L470 1179 L461 1178 L457 1172Z" stroke-width="1.4" fill="#3a3a3a" />
<path d="M462 1167 L468 1164 M461 1172 L470 1170" stroke-width="1.0" fill="none" stroke="#fff"/>
<path d="M464 1171 a2 2 0 1 0 4 0 a2 2 0 1 0 -4 0" stroke-width="1.0" fill="none" />
<path d="M485 1188 m-7 0 a7 8 -20 1 0 14 0 a7 8 -20 1 0 -14 0" stroke-width="1.2" fill="none" />
<path d="M483.5 1188 a1.5 2 0 1 0 3 0 a1.5 2 0 1 0 -3 0" stroke-width="1.0" fill="none" />
</g>
<g id="switch" stroke="#2a2a2a">
<path d="M826 912 Q828 909.5 831 911.5 L832.5 916.5 M827 912.5 L831 916" stroke-width="1.6" fill="none" />
<path d="M834.5 906 L867 870.5 Q869.5 869 870 871.5 L837.5 907.5 Q835 909 834.5 906Z" stroke-width="1.2" fill="none" />
<path d="M845 895.5 L847 898" stroke-width="1.4" fill="none" />
<path d="M862 876.5 L865 878" stroke-width="1.3" fill="none" />
<path d="M874 865 L889.5 852" stroke-width="6.5" fill="none" stroke-linecap="round"/>
<path d="M893.5 840 L896 839 L900 844.5 L897.5 845.5Z" stroke-width="1.1" fill="none" />
<path d="M880 820 L884 815.5 L887 818.5 L887 823 L891 827 L892.5 831 L890 832 L886 828 L882 823Z" stroke-width="1.2" fill="none" />
<path d="M884 817 L886 815 M883 821 L887 819" stroke-width="1.4" fill="none" />
<path d="M903 829 L906 821 L911 818 L914 815 L926 822 L927.5 826 L922 832 L918 832 L910 828 L907 832 L903 831Z" stroke-width="1.2" fill="none" />
<path d="M904 828 a2.5 3 -30 1 0 5 1" stroke-width="1.4" fill="none" />
<path d="M916 820 L924 825 M915 824 L922 828" stroke-width="1.0" fill="none" />
<path d="M960.0 771.4 L974.1 758.4 L979.2 759.5 L983.7 768.0 L967.9 784.3 L965.1 785.5 L962.9 779.8 L960.0 773.6Z" stroke-width="1.4" fill="none" />
<path d="M962.9 771.9 L976.4 760.1 L979.8 761.8 L982.0 768.0" stroke-width="1.1" fill="none" />
<path d="M966.8 778.7 L979.8 766.3" stroke-width="1.2" fill="none" />
<path d="M967.9 784.3 L982.0 769.7" stroke-width="1.2" fill="none" />
<path d="M968.5 766.3 L978.7 762.3" stroke-width="1.0" fill="none" />
<path d="M960.6 771.9 L966.2 773.6 L966.8 774.2" stroke-width="1.3" fill="none" />
<path d="M945.9 781.5 L951.6 777.0 L956.1 776.4 L959.5 778.7 L962.9 779.3 L965.1 784.3 L962.9 788.8 L963.4 792.2 L959.5 795.6 L956.1 794.5 L951.6 793.4 L948.2 790.0 L946.5 786.6Z" stroke-width="1.3" fill="none" />
<path d="M952.4 780.9 a2.6 2.6 0 1 0 5.2 0 a2.6 2.6 0 1 0 -5.2 0" stroke-width="1.4" fill="#333" />
<path d="M956.7 792.2 a2.8 2.8 0 1 0 5.6 0 a2.8 2.8 0 1 0 -5.6 0" stroke-width="1.4" fill="#333" />
<path d="M949.4 790.0 a2.2 2.2 0 1 0 4.4 0 a2.2 2.2 0 1 0 -4.4 0" stroke-width="1.4" fill="#333" />
<path d="M961.1 781.5 a1.8 1.8 0 1 0 3.6 0 a1.8 1.8 0 1 0 -3.6 0" stroke-width="1.1" fill="none" />
<path d="M953.8 784.3 L962.9 790.0" stroke-width="1.0" fill="none" />
<path d="M926.2 801.2 L930.7 796.2 L936.4 793.4 L945.4 797.9 L946.5 804.6 L936.9 813.1 L934.1 812.0 L927.3 804.6Z" stroke-width="1.4" fill="none" />
<path d="M937.0999999999999 800.1 a3.2 3.2 0 1 0 6.4 0 a3.2 3.2 0 1 0 -6.4 0" stroke-width="1.3" fill="#333" />
<path d="M940.9 804.6 a2.2 2.2 0 1 0 4.4 0 a2.2 2.2 0 1 0 -4.4 0" stroke-width="1.2" fill="#444" />
<path d="M928.5 804.6 L935.2 797.9" stroke-width="1.1" fill="none" />
<path d="M930.2 806.9 L936.9 801.2" stroke-width="1.1" fill="none" />
<path d="M939.7 791.7 L944.8 789.4 L948.2 791.1" stroke-width="1.2" fill="none" />
<path d="M941.4 793.9 L945.4 791.1" stroke-width="1.0" fill="none" />
<path d="M936.5 855 Q936 839 945 833 L958 829.5 Q962 829 963 833 L963 849 Q961 857 953 862 L944 866.5 Q937 866 936.5 855Z" stroke-width="1.3" fill="none" />
<path d="M940 858 L957 838 Q959 836 959.5 839 L944 859 Q941 861 940 858Z" stroke-width="1.1" fill="none" />
<path d="M955 838 L957 845 L960 845 L960 838" stroke-width="1.0" fill="none" />
<path d="M943.8 845 a1.2 1.2 0 1 0 2.4 0 a1.2 1.2 0 1 0 -2.4 0 M949 858 a1 1 0 1 0 2 0 a1 1 0 1 0 -2 0" stroke-width="1.2" fill="none" />
<path d="M956 862 L968 865.5" stroke-width="4" fill="none" stroke-linecap="round"/>
<path d="M970.5 866 m-2.5 0 a2.5 3 0 1 0 5 0 a2.5 3 0 1 0 -5 0" stroke-width="1.3" fill="#fff" />
</g>
<g id="scover" stroke="#2a2a2a">
<path d="M829 1040.5 L837.5 1045.5" stroke-width="3.6" fill="none" stroke-linecap="round"/>
<ellipse cx="827" cy="1038.5" rx="2.6" ry="2.4" transform="rotate(30 827 1038.5)" stroke-width="1.3" fill="#fff" />
<path d="M846 1049 L859 1053 L864 1058 L861 1062 L848 1058 L844.5 1053Z" stroke-width="1.3" fill="none" />
<ellipse cx="846.5" cy="1051" rx="2.3" ry="3.5" transform="rotate(-20 846.5 1051)" stroke-width="1.3" fill="none" />
<path d="M852 1050.5 L853 1056" stroke-width="1.1" fill="none" />
<ellipse cx="862" cy="1059.5" rx="2" ry="3" transform="rotate(-20 862 1059.5)" stroke-width="1.2" fill="none" />
<path d="M867 1074C867 1071.9 867 1068.3 868 1066C869 1063.7 871.8 1062.3 873 1060C874.2 1057.7 874.2 1054.2 875 1052C875.8 1049.8 876.7 1047.8 878 1047C879.3 1046.2 881.4 1045.8 883 1047C884.6 1048.2 886.8 1050.8 887.5 1054C888.2 1057.2 888.1 1062.5 887 1066C885.9 1069.5 883.3 1072.8 881 1075C878.7 1077.2 875.2 1078.9 873 1079.5C870.8 1080.1 869 1079.4 868 1078.5C867 1077.6 867 1076.1 867 1074Z" stroke-width="1.3" fill="none" />
<path d="M873 1060 L876 1050 L880 1048" stroke-width="1.5" fill="none" />
<ellipse cx="874" cy="1068" rx="2.5" ry="3" transform="rotate(0 874 1068)" stroke-width="1.2" fill="none" />
<ellipse cx="905" cy="1083.5" rx="18.5" ry="24.5" transform="rotate(20 905 1083.5)" stroke-width="1.4" fill="none" />
<ellipse cx="906" cy="1085" rx="3" ry="3.5" transform="rotate(0 906 1085)" stroke-width="1.4" fill="#3a3a3a" />
<ellipse cx="900" cy="1080" rx="1.6" ry="1.7" transform="rotate(0 900 1080)" stroke-width="1.3" fill="#fff" />
<ellipse cx="910" cy="1081" rx="1.6" ry="1.7" transform="rotate(0 910 1081)" stroke-width="1.3" fill="#fff" />
<ellipse cx="901" cy="1089" rx="1.6" ry="1.7" transform="rotate(0 901 1089)" stroke-width="1.3" fill="#fff" />
<ellipse cx="911" cy="1090" rx="1.6" ry="1.7" transform="rotate(0 911 1090)" stroke-width="1.3" fill="#fff" />
<ellipse cx="919" cy="1073" rx="1.6" ry="1.7" transform="rotate(0 919 1073)" stroke-width="1.3" fill="#fff" />
<ellipse cx="913" cy="1094" rx="1.6" ry="1.7" transform="rotate(0 913 1094)" stroke-width="1.3" fill="#fff" />
<ellipse cx="896" cy="1098" rx="1.6" ry="1.7" transform="rotate(0 896 1098)" stroke-width="1.3" fill="#fff" />
<path d="M908 1068 L909 1075 M903 1085 L914 1081" stroke-width="1.0" fill="none" />
<path d="M930 1080 L933 1076 L950 1068 L954 1064.5 L955.5 1067 L951 1076 L935 1085 L930.5 1084Z" stroke-width="1.3" fill="none" />
<path d="M934 1080 L946 1074 L947 1077 L936 1082Z" stroke-width="1.1" fill="none" />
<path d="M941 1091 L945 1085 L947 1090 L948.5 1097 M941 1091 L946 1093" stroke-width="1.2" fill="none" />
<path d="M885.5 1131 L890 1122 L905 1114 L910 1116 L909 1120 L893 1128 L888 1134Z" stroke-width="1.3" fill="#3a3a3a" />
<path d="M893 1123 L905 1117.5" stroke-width="1.0" fill="none" stroke="#fff"/>
<path d="M916 1115 L917 1128 L921 1121 L928 1121.5" stroke-width="1.2" fill="none" />
<path d="M935.5 1186.8C934.7 1185.3 931.5 1183.5 930.8 1178C930.1 1172.5 931.2 1160.7 931.4 1153.5C931.6 1146.3 931.3 1140.2 932 1134.8C932.7 1129.3 934.1 1124.9 935.5 1120.8C936.9 1116.7 937.5 1113.9 940.2 1110.2C942.9 1106.5 948 1102.3 951.9 1098.6C955.8 1094.9 961.3 1090.7 963.6 1088C965.9 1085.3 964.1 1084.5 965.9 1082.2C967.6 1079.9 971.6 1076.5 974.1 1074C976.6 1071.5 978.8 1067.8 981.1 1067C983.4 1066.2 986.2 1068.1 988.1 1069.3C990 1070.5 991.6 1072.6 992.8 1074C994 1075.4 994.1 1074.4 995.1 1077.5C996.1 1080.6 997.4 1087.4 998.6 1092.7C999.8 1098 1001.9 1105.4 1002.1 1109.1C1002.3 1112.8 1004.9 1108.7 999.8 1114.9C994.7 1121.1 979.3 1138.5 971.7 1146.5C964.1 1154.5 960.2 1156.1 954.2 1162.8C948.2 1169.5 938.6 1182.8 935.5 1186.8" stroke-width="1.4" fill="none" />
<path d="M965.9 1082.2 L971.7 1084.5 L988.1 1069.3" stroke-width="1.1" fill="none" />
<path d="M971.7 1084.5 L974.1 1096.2 L993.9 1081.0" stroke-width="1.1" fill="none" />
<path d="M963.6 1088.0 L971.7 1095.1" stroke-width="1.0" fill="none" />
<path d="M932.0 1134.8 L940.2 1138.3 L955.4 1128.9 L957.7 1125.4" stroke-width="1.1" fill="none" />
<path d="M940.2 1138.3 L941.4 1176.8 L935.5 1186.8" stroke-width="1.0" fill="none" />
<path d="M932.0 1144.1 L940.2 1141.8" stroke-width="1.0" fill="none" />
<path d="M940.2 1110.2C941.2 1112 946 1116.1 946 1120.8C946 1125.5 941.2 1135.4 940.2 1138.3" stroke-width="0.9" fill="none" />
<path d="M962.4 1098.6 L974.1 1096.2" stroke-width="0.9" fill="none" />
<ellipse cx="977.6" cy="1118.4" rx="17.5" ry="24.5" transform="rotate(28 977.6 1118.4)" stroke-width="1.3" fill="none"/>
<ellipse cx="977.0" cy="1119.0" rx="15.5" ry="22" transform="rotate(28 977.0 1119.0)" stroke-width="1.0" fill="none"/>
<ellipse cx="977.1999999999999" cy="1119.0" rx="13.5" ry="19.8" transform="rotate(28 976.4 1119.0)" stroke-width="3.6" fill="none" stroke-dasharray="46 60" stroke-dashoffset="23.5"/>
<ellipse cx="975.9" cy="1119.5" rx="12.5" ry="19" transform="rotate(28 976.4 1119.0)" stroke-width="1.2" fill="none"/>
<path d="M995.1 1097.4 L996.3 1098.6" stroke-width="1.5" fill="none" />
<path d="M937.9 1144.1 L953.0 1134.8" stroke-width="1.8" fill="none" />
<path d="M937.9 1148.1 L953.0 1138.7" stroke-width="1.8" fill="none" />
<path d="M937.9 1152.1 L953.0 1142.7" stroke-width="1.8" fill="none" />
<path d="M937.9 1156.0 L953.0 1146.7" stroke-width="1.8" fill="none" />
<path d="M937.9 1160.0 L953.0 1150.7" stroke-width="1.8" fill="none" />
<path d="M937.9 1164.0 L953.0 1154.6" stroke-width="1.8" fill="none" />
<path d="M937.9 1168.0 L953.0 1158.6" stroke-width="1.8" fill="none" />
<path d="M937.9 1171.9 L953.0 1162.6" stroke-width="1.8" fill="none" />
<path d="M956.5 1130.1 L960.1 1144.1 L962.4 1148.8" stroke-width="1.0" fill="none" />
<ellipse cx="1006.8" cy="1154.6" rx="21.5" ry="25.5" transform="rotate(20 1006.8 1154.6)" stroke-width="1.5" fill="none"/>
<ellipse cx="1015.0" cy="1153.5" rx="14" ry="23.5" transform="rotate(22 1015.0 1153.5)" stroke-width="1.3" fill="none"/>
<ellipse cx="1015.6" cy="1153.5" rx="14.6" ry="24.2" transform="rotate(22 1015.0 1153.5)" stroke-width="2.6" fill="none" stroke-dasharray="22 8 10 6 14 40" />
<path d="M990.4 1137.1 L999.8 1140.6" stroke-width="2.6" fill="none" />
<path d="M985.8 1153.5 L995.1 1155.8" stroke-width="2.6" fill="none" />
<path d="M988.1 1168.7 L996.3 1168.7" stroke-width="2.6" fill="none" />
<path d="M999.8 1134.8 L1005.6 1132.4" stroke-width="2.6" fill="none" />
<path d="M995.1 1176.8 L1002.1 1172.2" stroke-width="2.6" fill="none" />
<path d="M1006.8 1130.1 L1013.8 1134.8" stroke-width="2.6" fill="none" />
<path d="M986.9 1144.1 L997.4 1148.8 L999.8 1148.8" stroke-width="1.2" fill="none" />
<path d="M985.8 1162.8 L995.1 1162.8" stroke-width="1.2" fill="none" />
<path d="M1002.3 1153.5 a4.5 5.5 0 1 0 9 0 a4.5 5.5 0 1 0 -9 0" stroke-width="1.5" fill="#555" />
<path d="M1004.8 1153.5 a2 2.5 0 1 0 4 0 a2 2.5 0 1 0 -4 0" stroke-width="1.0" fill="#fff" />
<ellipse cx="1045.3" cy="1176.8" rx="18" ry="21.5" transform="rotate(25 1045.3 1176.8)" stroke-width="1.2" fill="none"/>
<ellipse cx="1049.4" cy="1176.8" rx="14.5" ry="20.5" transform="rotate(25 1049.4 1176.8)" stroke-width="1.4" fill="none"/>
<path d="M1036.0 1189.7 L1061.7 1167.5" stroke-width="2.6" fill="none" />
<path d="M1034.8 1185.0 L1059.4 1165.2" stroke-width="1.0" fill="none" />
<path d="M1037.2 1193.2 L1061.7 1172.2" stroke-width="1.0" fill="none" />
<path d="M1039.5 1172.2C1040.9 1171.4 1045 1169.1 1047.7 1167.5C1050.4 1165.9 1054.5 1163.6 1055.9 1162.8" stroke-width="1.0" fill="none" />
</g>
<g id="motor" stroke="#2a2a2a">
<path d="M66 1300C66.3 1297.5 67.2 1289.7 68 1285C68.8 1280.3 69.5 1276.2 71 1272C72.5 1267.8 73.7 1263.5 77 1260C80.3 1256.5 86.7 1252.3 91 1251C95.3 1249.7 99.3 1250.5 103 1252C106.7 1253.5 110.6 1256.2 113 1260C115.4 1263.8 117.3 1270 117.5 1275C117.7 1280 116.1 1286.2 114 1290C111.9 1293.8 110.8 1294.8 105 1298C99.2 1301.2 83.3 1307.6 79 1309.5" stroke-width="1.3" fill="none" />
<path d="M66 1300 L79 1309.5" stroke-width="1.3" fill="none" />
<ellipse cx="103.5" cy="1277" rx="12.5" ry="19" transform="rotate(15 103.5 1277)" stroke-width="1.6" fill="none" />
<ellipse cx="103.5" cy="1277.5" rx="10.5" ry="16.5" transform="rotate(15 103.5 1277.5)" stroke-width="1.0" fill="none" />
<path d="M97 1265 L103 1278 L112 1271 M103 1278 L101 1292 M98 1270 L95 1283" stroke-width="1.1" fill="none" />
<path d="M69 1260 L76.5 1258.5 L77 1263.5 L70 1265Z" stroke-width="1.0" fill="none" />
<path d="M79 1309 L92 1296 M78 1272 Q85 1262 97 1258" stroke-width="0.9" fill="none" />
<path d="M115.5 1291 Q116 1283 124 1282 L130 1281 L166 1300 M118 1308.5 L152 1328.5" stroke-width="1.3" fill="none" />
<path d="M115.5 1291 Q114 1302 118 1308.5" stroke-width="1.3" fill="none" />
<ellipse cx="160.5" cy="1314.5" rx="8.5" ry="14.5" transform="rotate(-10 160.5 1314.5)" stroke-width="1.3" fill="none" />
<ellipse cx="162" cy="1315" rx="5" ry="9" transform="rotate(-10 162 1315)" stroke-width="1.0" fill="none" />
<path d="M129 1280 L131 1278 L138 1282 L137 1286" stroke-width="1.1" fill="none" />
<path d="M133 1283 L137 1285 L136 1288 L132 1286Z" stroke-width="1.0" fill="#2a2a2a" />
<path d="M124 1296 Q126 1295 127 1298 L127 1305 Q125 1307 124 1304Z" stroke-width="1.1" fill="none" />
<path d="M163 1317.5 L170 1320.5" stroke-width="2.2" fill="none" />
<path d="M171 1322 L175 1319.5 L179.5 1322 L180 1330 L176 1333 L171.5 1330Z" stroke-width="1.2" fill="#2a2a2a" />
<ellipse cx="188" cy="1331.5" rx="2.5" ry="3" transform="rotate(0 188 1331.5)" stroke-width="1.2" fill="none" />
<path d="M209.3 1329C206.6 1331.4 204.6 1334.9 202.9 1338.7C201.2 1342.5 199.5 1347.3 199 1351.6C198.5 1355.9 199 1361.1 199.7 1364.5C200.3 1367.9 201.3 1370.8 202.9 1372.2C204.5 1373.6 206.6 1373.2 209.3 1372.9C212 1372.6 215.8 1371.3 219 1370.3C222.2 1369.3 226 1369.1 228.7 1367.1C231.4 1365 233.4 1361.5 235.1 1358C236.8 1354.5 237.1 1350.5 239 1346.4C240.9 1342.3 246 1336.6 246.7 1333.5C247.3 1330.4 244.2 1330.1 242.9 1327.7C241.6 1325.3 239.2 1322.1 239 1319.3C238.8 1316.5 242.2 1311.5 241.6 1311C240.9 1310.5 238.9 1313.8 235.1 1316.1C231.3 1318.3 223.3 1322.3 219 1324.5C214.7 1326.7 212 1326.6 209.3 1329Z" stroke-width="2.8" fill="none" />
<path d="M209.3 1329C206.6 1331.4 204.6 1334.9 202.9 1338.7C201.2 1342.5 199.5 1347.3 199 1351.6C198.5 1355.9 199 1361.1 199.7 1364.5C200.3 1367.9 201.3 1370.8 202.9 1372.2C204.5 1373.6 206.6 1373.2 209.3 1372.9C212 1372.6 215.8 1371.3 219 1370.3C222.2 1369.3 226 1369.1 228.7 1367.1C231.4 1365 233.4 1361.5 235.1 1358C236.8 1354.5 237.1 1350.5 239 1346.4C240.9 1342.3 246 1336.6 246.7 1333.5C247.3 1330.4 244.2 1330.1 242.9 1327.7C241.6 1325.3 239.2 1322.1 239 1319.3C238.8 1316.5 242.2 1311.5 241.6 1311C240.9 1310.5 238.9 1313.8 235.1 1316.1C231.3 1318.3 223.3 1322.3 219 1324.5C214.7 1326.7 212 1326.6 209.3 1329Z" stroke-width="1.2" fill="none" stroke="#fff" stroke-dasharray="0.7 3.2"/>
<path d="M211.3 1330.9C209.5 1332.6 207.4 1336.5 206.1 1340C204.8 1343.5 203.7 1347.5 203.5 1351.6C203.3 1355.7 203.8 1361.9 204.8 1364.5C205.8 1367.1 206.9 1367 209.3 1367.1C211.7 1367.2 216 1366.3 219 1365.1C222 1363.9 225.1 1362.2 227.4 1360C229.7 1357.8 231.3 1354.7 232.6 1351.6C233.9 1348.5 234.9 1344.3 235.1 1341.3C235.3 1338.3 235.3 1335.3 233.8 1333.5C232.3 1331.7 228.9 1330.9 226.1 1330.3C223.3 1329.7 219.6 1329.6 217.1 1329.7C214.6 1329.8 213.1 1329.2 211.3 1330.9Z" stroke-width="1.2" fill="none" />
<ellipse cx="217.1" cy="1351.6" rx="12.5" ry="16.5" transform="rotate(25 217.1 1351.6)" stroke-width="1.2" fill="none" />
<ellipse cx="217.7" cy="1347.7" rx="5" ry="6.8" transform="rotate(25 217.7 1347.7)" stroke-width="1.4" fill="none" />
<ellipse cx="217.7" cy="1347.7" rx="2.5" ry="3.5" transform="rotate(25 217.7 1347.7)" stroke-width="1.1" fill="none" />
<ellipse cx="235.1" cy="1336.1" rx="6" ry="7.5" transform="rotate(25 235.1 1336.1)" stroke-width="3.0" fill="none" />
<ellipse cx="235.1" cy="1336.1" rx="3.5" ry="4.8" transform="rotate(25 235.1 1336.1)" stroke-width="1.1" fill="#fff" />
<path d="M224.2 1329.7 L241.6 1334.8 L240.3 1337.4 L224.8 1332.2Z" stroke-width="1.2" fill="#333" />
<path d="M240.3 1309.8 L254.5 1319.4 M240.3 1314.8 L254.5 1324.4" stroke-width="1.1" fill="none" />
<ellipse cx="254.5" cy="1321.9" rx="2.3" ry="3.0" transform="rotate(20 254.5 1321.9)" stroke-width="1.5" fill="#fff" />
<ellipse cx="254.5" cy="1321.9" rx="0.9" ry="1.2" transform="rotate(20 254.5 1321.9)" stroke-width="1.0" fill="none" />
<path d="M245.4 1322.6 L257.7 1329.1 M245.4 1327.6 L257.7 1334.1" stroke-width="1.1" fill="none" />
<ellipse cx="257.7" cy="1331.6" rx="2.3" ry="3.0" transform="rotate(20 257.7 1331.6)" stroke-width="1.5" fill="#fff" />
<ellipse cx="257.7" cy="1331.6" rx="0.9" ry="1.2" transform="rotate(20 257.7 1331.6)" stroke-width="1.0" fill="none" />
<path d="M241.6 1343.9 L254.5 1352.3 M241.6 1348.9 L254.5 1357.3" stroke-width="1.1" fill="none" />
<ellipse cx="254.5" cy="1354.8" rx="2.3" ry="3.0" transform="rotate(20 254.5 1354.8)" stroke-width="1.5" fill="#fff" />
<ellipse cx="254.5" cy="1354.8" rx="0.9" ry="1.2" transform="rotate(20 254.5 1354.8)" stroke-width="1.0" fill="none" />
<path d="M204.2 1367.1 L218.4 1374.9 M204.2 1372.1 L218.4 1379.9" stroke-width="1.1" fill="none" />
<ellipse cx="218.4" cy="1377.4" rx="2.3" ry="3.0" transform="rotate(20 218.4 1377.4)" stroke-width="1.5" fill="#fff" />
<ellipse cx="218.4" cy="1377.4" rx="0.9" ry="1.2" transform="rotate(20 218.4 1377.4)" stroke-width="1.0" fill="none" />
<ellipse cx="246.7" cy="1372.9" rx="5.8" ry="6.8" transform="rotate(20 246.7 1372.9)" stroke-width="1.6" fill="none" />
<ellipse cx="246.7" cy="1372.9" rx="5.8" ry="6.8" transform="rotate(20 246.7 1372.9)" stroke-width="1.6" fill="none" stroke-dasharray="1 1"/>
<ellipse cx="247.4" cy="1372.9" rx="2.3" ry="3" transform="rotate(20 247.4 1372.9)" stroke-width="1.3" fill="none" />
<path d="M273 1362 L280.5 1367.5" stroke-width="3.2" fill="none" stroke-linecap="round"/>
<path d="M280.5 1367.5 m-2.4 0 a2.4 2.4 0 1 0 4.8 0 a2.4 2.4 0 1 0 -4.8 0" stroke-width="1.2" fill="#fff" />
<path d="M287 1353 L294 1357.5" stroke-width="3.2" fill="none" stroke-linecap="round"/>
<path d="M294 1357.5 m-2.4 0 a2.4 2.4 0 1 0 4.8 0 a2.4 2.4 0 1 0 -4.8 0" stroke-width="1.2" fill="#fff" />
<ellipse cx="294.2" cy="1394.2" rx="15" ry="19" transform="rotate(15 294.2 1394.2)" stroke-width="5" fill="none" stroke="#2e2e2e"/>
<ellipse cx="294.2" cy="1394.2" rx="15.8" ry="19.8" transform="rotate(15 294.2 1394.2)" stroke-width="2.0" fill="none" stroke="#2e2e2e" stroke-dasharray="1.4 1.4"/>
<ellipse cx="294.2" cy="1394.2" rx="14.5" ry="18.5" transform="rotate(15 294.2 1394.2)" stroke-width="0.9" fill="none" stroke="#fff" stroke-dasharray="0.8 2.6"/>
<ellipse cx="295" cy="1395" rx="11.5" ry="15" transform="rotate(15 295 1395)" stroke-width="1.0" fill="none" stroke="#fff" stroke-dasharray="0.8 3"/>
<ellipse cx="297" cy="1396" rx="9" ry="12" transform="rotate(15 297 1396)" stroke-width="1.3" fill="#fff" />
<ellipse cx="301" cy="1398" rx="5" ry="7" transform="rotate(15 301 1398)" stroke-width="1.3" fill="none" />
<ellipse cx="302" cy="1398.5" rx="2.5" ry="3.5" transform="rotate(15 302 1398.5)" stroke-width="1.0" fill="none" />
<path d="M307.5 1402 Q308 1398 313 1399 L325 1403 Q328 1405 327 1409 L325 1417 Q323 1419.5 319 1418.5 L310 1415 Q307 1413 307.5 1409Z" stroke-width="1.2" fill="#2a2a2a" />
<ellipse cx="336" cy="1419" rx="10" ry="12" transform="rotate(15 336 1419)" stroke-width="1.5" fill="#2a2a2a" />
<path d="M330 1411 L340 1408" stroke-width="3" fill="none" />
<ellipse cx="340" cy="1420.5" rx="7.5" ry="10" transform="rotate(15 340 1420.5)" stroke-width="1.3" fill="#fff" />
<ellipse cx="340.5" cy="1420.5" rx="2" ry="2.5" transform="rotate(0 340.5 1420.5)" stroke-width="1.4" fill="#2a2a2a" />
<ellipse cx="354.5" cy="1431" rx="8.5" ry="11" transform="rotate(20 354.5 1431)" stroke-width="1.3" fill="none" />
<ellipse cx="357" cy="1431" rx="5.5" ry="8" transform="rotate(20 357 1431)" stroke-width="1.3" fill="none" />
<path d="M352 1426 L360 1435 M350 1434 L358 1428" stroke-width="1.0" fill="none" />
<path d="M361 1434 L377 1443 M359 1438 L376 1447" stroke-width="1.2" fill="none" />
<path d="M377 1442.5 L385 1444.5 L391 1448 L390 1456 L385 1457 L377 1453Z" stroke-width="1.2" fill="none" />
<path d="M381 1447 L388 1450 M380 1452 a2 2.5 0 1 0 4 0 a2 2.5 0 1 0 -4 0" stroke-width="1.2" fill="none" />
<path d="M390 1452 L403 1458.5 L402 1461.5 L390 1456" stroke-width="1.2" fill="none" />
<ellipse cx="416.5" cy="1460" rx="5.5" ry="7" transform="rotate(15 416.5 1460)" stroke-width="1.6" fill="none" />
<ellipse cx="416.5" cy="1460" rx="2.2" ry="2.7" transform="rotate(15 416.5 1460)" stroke-width="1.4" fill="none" />
<path d="M425 1442.5 L436.5 1449.5" stroke-width="3.4" fill="none" stroke-linecap="round"/>
<path d="M436.5 1449.5 m-2.6 0 a2.6 2.6 0 1 0 5.2 0 a2.6 2.6 0 1 0 -5.2 0" stroke-width="1.2" fill="#fff" />
<path d="M413 1489C412.7 1486.3 413.7 1481 415 1477C416.3 1473 418.7 1468 421 1465C423.3 1462 426.3 1460.5 429 1459C431.7 1457.5 434.7 1456.2 437 1456C439.3 1455.8 441 1457.7 443 1458C445 1458.3 446.8 1457.7 449 1458C451.2 1458.3 454.2 1459 456 1460C457.8 1461 458.9 1460.5 460 1464C461.1 1467.5 462.8 1476.2 462.5 1481C462.2 1485.8 459.8 1489.8 458 1493C456.2 1496.2 455 1498.7 451.5 1500.5C448 1502.3 440.6 1504.1 437 1504C433.4 1503.9 433.3 1501.8 430 1500C426.7 1498.2 419.8 1494.8 417 1493C414.2 1491.2 413.3 1491.7 413 1489Z" stroke-width="1.4" fill="none" />
<path d="M437 1456 L440 1451 L438 1446 M446 1459 L449 1456 L456 1459 L458 1455" stroke-width="1.2" fill="none" />
<path d="M419 1470 L420 1495 M422 1466 Q427 1462 435 1463" stroke-width="1.0" fill="none" />
<ellipse cx="449.5" cy="1486" rx="10" ry="13" transform="rotate(15 449.5 1486)" stroke-width="1.4" fill="none" />
<ellipse cx="450.5" cy="1486" rx="6.5" ry="9" transform="rotate(15 450.5 1486)" stroke-width="1.1" fill="none" />
<path d="M447 1484 L453 1488 M449 1481 L451 1491" stroke-width="1.1" fill="none" />
<path d="M413 1488 L417 1486 L418 1492 M432 1500 L436 1498 L437 1504" stroke-width="1.5" fill="none" />
<path d="M487.5 1472 L499.5 1479.5" stroke-width="3.6" fill="none" stroke-linecap="round"/>
<path d="M499.5 1479.5 m-2.6 0 a2.6 2.6 0 1 0 5.2 0 a2.6 2.6 0 1 0 -5.2 0" stroke-width="1.2" fill="#fff" />
<path d="M471.5 1497 L484 1503.5" stroke-width="3.6" fill="none" stroke-linecap="round"/>
<path d="M484 1503.5 m-2.6 0 a2.6 2.6 0 1 0 5.2 0 a2.6 2.6 0 1 0 -5.2 0" stroke-width="1.2" fill="#fff" />
<path d="M459.5 1518 L471.5 1525" stroke-width="3.6" fill="none" stroke-linecap="round"/>
<path d="M471.5 1525 m-2.6 0 a2.6 2.6 0 1 0 5.2 0 a2.6 2.6 0 1 0 -5.2 0" stroke-width="1.2" fill="#fff" />
</g>
<g id="pump" stroke="#2a2a2a">
<path d="M570 1398 Q574 1390 582 1390 L590 1393 Q596 1398 595.5 1408 Q594 1416 588 1418 L576 1416 Q568 1413 568 1405Z" stroke-width="1.4" fill="none" />
<path d="M570.2 1410.5 l6 -1.5" stroke-width="1.5" fill="none" />
<path d="M569.1 1406.3 l6 -1.5" stroke-width="1.5" fill="none" />
<path d="M569.1 1401.7 l6 -1.5" stroke-width="1.5" fill="none" />
<path d="M570.2 1397.5 l6 -1.5" stroke-width="1.5" fill="none" />
<path d="M572.2 1394.0 l6 -1.5" stroke-width="1.5" fill="none" />
<path d="M574.9 1391.8 l6 -1.5" stroke-width="1.5" fill="none" />
<path d="M578.0 1391.0 l6 -1.5" stroke-width="1.5" fill="none" />
<path d="M581.1 1391.8 l6 -1.5" stroke-width="1.5" fill="none" />
<path d="M583.8 1394.0 l6 -1.5" stroke-width="1.5" fill="none" />
<ellipse cx="586" cy="1404" rx="7" ry="12" transform="rotate(10 586 1404)" stroke-width="1.3" fill="#fff" />
<ellipse cx="586" cy="1404" rx="4" ry="7" transform="rotate(10 586 1404)" stroke-width="1.6" fill="#3a3a3a" />
<path d="M592.0 1404.0 L593.5 1404.0" stroke-width="1.4" fill="none" />
<path d="M591.2 1409.2 L592.5 1410.2" stroke-width="1.4" fill="none" />
<path d="M589.0 1413.1 L589.8 1414.8" stroke-width="1.4" fill="none" />
<path d="M586.0 1414.5 L586.0 1416.5" stroke-width="1.4" fill="none" />
<path d="M583.0 1413.1 L582.2 1414.8" stroke-width="1.4" fill="none" />
<path d="M580.8 1409.2 L579.5 1410.2" stroke-width="1.4" fill="none" />
<path d="M580.0 1404.0 L578.5 1404.0" stroke-width="1.4" fill="none" />
<path d="M580.8 1398.8 L579.5 1397.8" stroke-width="1.4" fill="none" />
<path d="M583.0 1394.9 L582.2 1393.2" stroke-width="1.4" fill="none" />
<path d="M586.0 1393.5 L586.0 1391.5" stroke-width="1.4" fill="none" />
<path d="M589.0 1394.9 L589.8 1393.2" stroke-width="1.4" fill="none" />
<path d="M591.2 1398.8 L592.5 1397.8" stroke-width="1.4" fill="none" />
<ellipse cx="602.5" cy="1416.5" rx="6.5" ry="8.8" transform="rotate(25 602.5 1416.5)" stroke-width="1.5" fill="none" />
<ellipse cx="602.5" cy="1416.5" rx="5" ry="7.3" transform="rotate(25 602.5 1416.5)" stroke-width="1.0" fill="none" />
<ellipse cx="617.8" cy="1425.8" rx="6.8" ry="9.8" transform="rotate(25 617.8 1425.8)" stroke-width="1.5" fill="none" />
<ellipse cx="617.8" cy="1425.8" rx="5.6" ry="8.6" transform="rotate(25 617.8 1425.8)" stroke-width="0.8" fill="none" />
<path d="M610 1446 L611.5 1443.5 L622.5 1449.5 L621 1453Z" stroke-width="1.2" fill="none" />
<path d="M610.5 1445 L612.5 1446.5" stroke-width="2.2" fill="none" />
<path d="M617 1449 L620 1451" stroke-width="1.0" fill="none" />
<path d="M625.6 1457C625.8 1455 625.9 1448.8 626.5 1445C627.1 1441.2 627.4 1436.7 629 1434C630.6 1431.3 632.5 1429.4 636 1429C639.5 1428.6 645.2 1429.9 650 1431.7C654.8 1433.5 660.9 1436.7 665 1440C669.1 1443.3 671.8 1448 674.5 1451.5C677.2 1455 680.1 1457.6 681 1461C681.9 1464.4 680.3 1468.7 680 1472C679.7 1475.3 680.4 1476.5 679.4 1481C678.4 1485.5 676.9 1494.8 674 1499C671.1 1503.2 666.2 1504.8 662 1506.5C657.8 1508.2 655 1511.3 649 1509C643 1506.7 629.9 1498.3 626 1492.5C622.1 1486.7 625.1 1477.9 625.6 1474C626.1 1470.1 628.4 1469.8 629 1469" stroke-width="1.5" fill="none" />
<path d="M625.6 1457 L629 1469" stroke-width="1.5" fill="none" />
<path d="M628 1433 L632 1428 L636 1427 L641 1430 L638 1444 L630 1446 L627 1442Z" stroke-width="1.2" fill="#333" />
<path d="M632 1447 Q640 1443 650 1446 L664 1446 L676 1456" stroke-width="1.2" fill="none" />
<path d="M640 1446 Q642 1455 645 1466 L648 1470 M650 1446 Q654 1452 657 1461 L660 1466" stroke-width="1.1" fill="none" />
<path d="M629 1469 Q640 1470 650 1475 L662 1478 L674 1470" stroke-width="1.1" fill="none" />
<path d="M626 1478 L651 1491 L653 1505" stroke-width="1.0" fill="none" />
<path d="M627 1486 L650 1498" stroke-width="1.0" fill="none" />
<path d="M656 1479 L657 1505 M660 1478 L661 1500" stroke-width="1.1" fill="none" />
<path d="M665 1447 L672 1444 L678 1454 M658 1466 L672 1457" stroke-width="1.0" fill="none" />
<path d="M623.5 1459 a2.5 3 0 1 0 5 0 a2.5 3 0 1 0 -5 0" stroke-width="1.2" fill="none" />
<path d="M673 1455 a2 2.5 0 1 0 4 0 a2 2.5 0 1 0 -4 0" stroke-width="1.2" fill="none" />
<path d="M655 1497 a2 2 0 1 0 4 0 a2 2 0 1 0 -4 0 M659 1502 a2 2 0 1 0 4 0 a2 2 0 1 0 -4 0" stroke-width="1.3" fill="none" />
<path d="M646 1505 L650 1508 L648 1510 L644 1508Z" stroke-width="1.5" fill="#2a2a2a" />
<path d="M645 1398.5 L668.5 1414 Q671 1416 671 1420 L672 1426" stroke-width="1.0" fill="none" />
<path d="M644 1398.5 a1 1 0 1 0 2 0 a1 1 0 1 0 -2 0" stroke-width="1.2" fill="none" />
<path d="M670 1427 Q667 1434 668 1438 L671 1443 L673 1443 L671 1435 Q672 1429 676 1430 Q679 1433 679 1439 L683.5 1444" stroke-width="1.6" fill="none" />
<path d="M669 1428 L680 1430" stroke-width="1.2" fill="none" />
<path d="M634.5 1512 L639 1510.5 L642.5 1513 L641 1518 L636 1518.5Z" stroke-width="1.2" fill="none" />
<path d="M638 1514 L644 1513.5" stroke-width="1.2" fill="none" />
</g>
<g id="lever" stroke="#2a2a2a">
<path d="M800 1443.5 L804 1443 L805 1446 L799 1453 L795 1457 L792.5 1461 L792.5 1463.5 L790 1464 L789 1459 L791 1454 L798 1448Z" stroke-width="1.2" fill="none" />
<path d="M799 1447 L803.5 1448" stroke-width="1.0" fill="none" />
<path d="M785 1468 L789 1465.5 L794 1466.5 L793 1469.5 L788 1471Z" stroke-width="1.3" fill="#2a2a2a" />
<path d="M808 1468.5 L816 1464 L818.5 1466.5 L811 1472 Z" stroke-width="1.3" fill="none" />
<path d="M808 1468.5 a1.5 2 -30 1 0 3 3" stroke-width="2.2" fill="none" />
<path d="M824.5 1457 L833 1451 L838.5 1453 L839 1459 L830 1464.5 L825 1462Z" stroke-width="1.3" fill="none" />
<path d="M826 1457 L835 1452 M829 1459 L837 1454 M831 1462 L831 1459 M835 1450 L836 1449" stroke-width="1.1" fill="none" />
<path d="M827 1461 L829 1463 L834 1461" stroke-width="1.8" fill="none" />
<path d="M795.9 1480 l0.1 0" stroke-width="3.2" fill="none" stroke-linecap="round"/>
<path d="M770 1497 L791.5 1483.5 M771 1499 L792.5 1485" stroke-width="1.1" fill="none" />
<path d="M770 1497 L771 1499 M775.5 1494 L776 1495.5 M789 1485.5 L791 1487" stroke-width="1.6" fill="none" />
<ellipse cx="762" cy="1502.3" rx="5" ry="4.3" transform="rotate(-20 762 1502.3)" stroke-width="1" fill="#2a2a2a" />
<ellipse cx="750.3" cy="1509.3" rx="4.6" ry="4.6" transform="rotate(0 750.3 1509.3)" stroke-width="1" fill="#2a2a2a" />
<ellipse cx="736.3" cy="1518.5" rx="2.8" ry="2.6" transform="rotate(0 736.3 1518.5)" stroke-width="1.2" fill="#555" />
<ellipse cx="810.5" cy="1502.5" rx="5.5" ry="5.8" transform="rotate(0 810.5 1502.5)" stroke-width="1.5" fill="none" />
<ellipse cx="811" cy="1502.5" rx="2" ry="2.4" transform="rotate(0 811 1502.5)" stroke-width="1.3" fill="none" />
<path d="M806 1506 L804 1511 L809 1513 L813 1510 L815 1508 M805 1512 L803 1513" stroke-width="1.2" fill="none" />
<path d="M814.5 1509 L815 1514 L797 1524.5 L795 1528 M804 1515 L791 1523" stroke-width="1.2" fill="none" />
<path d="M788 1522 L793 1520 L795 1524 L794 1529 L789 1530 L787 1526Z" stroke-width="1.3" fill="#666" />
<path d="M829 1499 L833 1497 L838 1500 L842 1505 L845 1506 L844 1509 L840 1509 L836 1508 L833 1511 L829.5 1510 L832 1505 L829 1502Z" stroke-width="1.3" fill="#777" />
<path d="M831 1510 L834 1512" stroke-width="1.2" fill="none" />
<path d="M817 1519 L818 1516 L821 1518 L832 1514 L834.5 1516 L821 1524 L817.5 1525Z" stroke-width="1.1" fill="none" />
<path d="M836.5 1513 L843.5 1518" stroke-width="2.3" fill="none" />
<path d="M826.5 1526 L831.5 1523.5" stroke-width="1.8" fill="none" />
</g>
<g id="latch" stroke="#2a2a2a">
<path d="M206.4 1061 L206.5 1075" stroke-width="5.8" fill="none" stroke-linecap="round"/>
<path d="M204.5 1063 L208.5 1063 M204.5 1066.5 L208.5 1066.5 M204.5 1070 L208.5 1070 M204.5 1073.5 L208.5 1073.5" stroke-width="0.6" fill="none" stroke="#fff"/>
<path d="M224.6 1050.5 L241.6 1058.5" stroke-width="1.2" fill="none" />
<path d="M223.0 1056.9 L238.3 1066.6" stroke-width="1.2" fill="none" />
<path d="M223.3 1053.5 a2.6 3.5 -25 1 0 0.1 0" stroke-width="0" fill="none" />
<ellipse cx="225.4" cy="1053.8" rx="2.4" ry="3.5" transform="rotate(-25 225.4 1053.8)" stroke-width="1.2" fill="#fff"/>
<path d="M238.3 1056.1 L243.2 1055.3 L245.6 1057.7 L244.8 1061.8 L240.0 1065.8 L235.9 1066.6 L231.9 1064.2 L231.1 1061.8 L235.1 1061.8" stroke-width="1.2" fill="none" />
<ellipse cx="240.5" cy="1060.5" rx="2.5" ry="3.2" transform="rotate(-25 240.5 1060.5)" stroke-width="1.2" fill="#fff"/>
<path d="M231.1 1061.8 L232.7 1065.8 L235.9 1067.4" stroke-width="1.4" fill="#555" />
<path d="M245 1066.7 L264 1078.5" stroke-width="4.8" fill="none" stroke-linecap="round"/>
<path d="M210.1 1103.7 L227.9 1081.1 L233.5 1079.5 L245.6 1090.0 L238.3 1094.8 L218.2 1109.3Z" stroke-width="1.3" fill="#6a6a6a" />
<path d="M214.2 1101.2 L229.5 1085.1" stroke-width="1.3" fill="none" stroke="#fff" stroke-dasharray="1.2 1.2"/>
<path d="M217.4 1104.5 L235.1 1085.1" stroke-width="1.3" fill="none" stroke="#fff" stroke-dasharray="1.2 1.4"/>
<path d="M222.2 1106.1 L240.0 1090.0" stroke-width="1.0" fill="none" stroke="#fff"/>
<path d="M218.2 1109.3 L238.3 1094.8" stroke-width="1.2" fill="none" />
</g>
</g>
</svg>
</body></html>
